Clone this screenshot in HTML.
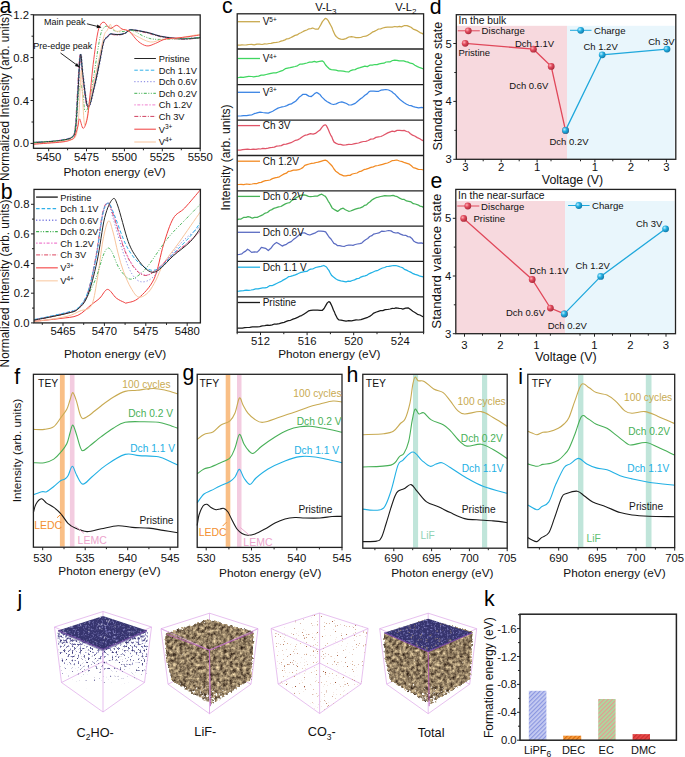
<!DOCTYPE html>
<html><head><meta charset="utf-8"><style>
html,body{margin:0;padding:0;background:#fff;width:685px;height:757px;overflow:hidden}
svg{display:block;font-family:"Liberation Sans", sans-serif}
</style></head><body>
<svg width="685" height="757" viewBox="0 0 685 757">
<defs><radialGradient id="g_r" cx="0.35" cy="0.35" r="0.7"><stop offset="0" stop-color="#ffb0b8"/><stop offset="0.45" stop-color="#e04a5c"/><stop offset="1" stop-color="#a82838"/></radialGradient>
<radialGradient id="g_b" cx="0.35" cy="0.35" r="0.7"><stop offset="0" stop-color="#b8ecff"/><stop offset="0.45" stop-color="#22aee0"/><stop offset="1" stop-color="#1078a8"/></radialGradient>
<linearGradient id="fadeG" x1="0" y1="0" x2="0" y2="1"><stop offset="0" stop-color="#fff" stop-opacity="1"/><stop offset="0.7" stop-color="#fff" stop-opacity="1"/><stop offset="1" stop-color="#fff" stop-opacity="0.6"/></linearGradient>
<filter id="brownTex" x="-10%" y="-10%" width="120%" height="120%" color-interpolation-filters="sRGB">
<feTurbulence type="fractalNoise" baseFrequency="0.3" numOctaves="3" seed="4" result="n"/>
<feColorMatrix in="n" type="matrix" values="1.1 0 0 0 0.02  1.05 0 0 0 -0.03  0.85 0 0 0 -0.04  0 0 0 0 1" result="col"/>
<feGaussianBlur in="SourceAlpha" stdDeviation="1.6" result="ba"/>
<feTurbulence type="fractalNoise" baseFrequency="0.45" numOctaves="2" seed="9" result="n2"/>
<feColorMatrix in="n2" type="matrix" values="0 0 0 0 0  0 0 0 0 0  0 0 0 0 0  1 0 0 0 0" result="a2"/>
<feComposite in="ba" in2="a2" operator="arithmetic" k1="0" k2="6" k3="6" k4="-6.3" result="mask"/>
<feComposite in="col" in2="mask" operator="in"/>
</filter>
<pattern id="hatchB" width="3" height="3" patternUnits="userSpaceOnUse" patternTransform="rotate(-45)"><rect width="3" height="3" fill="#c8cdf2"/><rect width="3" height="1.2" fill="#8a96e0"/></pattern>
<pattern id="hatchO" width="3" height="3" patternUnits="userSpaceOnUse" patternTransform="rotate(-45)"><rect width="3" height="3" fill="#f8a040"/><rect width="3" height="1.2" fill="#d86a10"/></pattern>
<pattern id="hatchG" width="3" height="3" patternUnits="userSpaceOnUse" patternTransform="rotate(-45)"><rect width="3" height="3" fill="#a8dca0"/><rect width="3" height="1.2" fill="#e89890"/></pattern>
<pattern id="hatchR" width="3" height="3" patternUnits="userSpaceOnUse" patternTransform="rotate(-45)"><rect width="3" height="3" fill="#e84848"/><rect width="3" height="1.2" fill="#c83030"/></pattern>
<linearGradient id="fadeN" x1="0" y1="0" x2="0" y2="1"><stop offset="0" stop-color="#fff" stop-opacity="0.88"/><stop offset="0.5" stop-color="#fff" stop-opacity="0.68"/><stop offset="1" stop-color="#fff" stop-opacity="0.42"/></linearGradient>
<filter id="navyTex" x="0" y="0" width="100%" height="100%" color-interpolation-filters="sRGB">
<feTurbulence type="fractalNoise" baseFrequency="0.8" numOctaves="1" seed="12" result="n"/>
<feColorMatrix in="n" type="matrix" values="0 0 0 0 0  0 0 0 0 0  0 0 0 0 0  3.0 0 0 0 -1.0" result="m"/>
<feFlood flood-color="#3e3c78" result="dark"/>
<feFlood flood-color="#9896c8" result="light"/>
<feComposite in="light" in2="m" operator="in" result="lm"/>
<feComposite in="lm" in2="dark" operator="over" result="col"/>
<feTurbulence type="fractalNoise" baseFrequency="0.5" numOctaves="3" seed="21" result="n2"/>
<feColorMatrix in="n2" type="matrix" values="0 0 0 0 0  0 0 0 0 0  0 0 0 0 0  1 0 0 0 0" result="a2"/>
<feComposite in="SourceAlpha" in2="a2" operator="arithmetic" k1="0" k2="8" k3="8" k4="-10.4" result="mask"/>
<feComposite in="col" in2="mask" operator="in"/>
</filter>
<filter id="co3Tex" x="0" y="0" width="100%" height="100%" color-interpolation-filters="sRGB">
<feTurbulence type="fractalNoise" baseFrequency="0.6" numOctaves="1" seed="7" result="n"/>
<feColorMatrix in="n" type="matrix" values="0 0 0 0 0  0 0 0 0 0  0 0 0 0 0  3.0 0 0 0 -1.0" result="m"/>
<feFlood flood-color="#9a4a2a" result="dark"/>
<feFlood flood-color="#e0b898" result="light"/>
<feComposite in="light" in2="m" operator="in" result="lm"/>
<feComposite in="lm" in2="dark" operator="over" result="col"/>
<feTurbulence type="fractalNoise" baseFrequency="0.9" numOctaves="2" seed="33" result="n2"/>
<feColorMatrix in="n2" type="matrix" values="0 0 0 0 0  0 0 0 0 0  0 0 0 0 0  1 0 0 0 0" result="a2"/>
<feComposite in="SourceAlpha" in2="a2" operator="arithmetic" k1="0" k2="8" k3="8" k4="-13.5" result="mask"/>
<feComposite in="col" in2="mask" operator="in"/>
</filter>
<linearGradient id="fadeC" x1="0" y1="0" x2="0" y2="1"><stop offset="0" stop-color="#fff" stop-opacity="0.95"/><stop offset="1" stop-color="#fff" stop-opacity="0.8"/></linearGradient>
<filter id="slabTex" x="0" y="0" width="100%" height="100%" color-interpolation-filters="sRGB">
<feTurbulence type="fractalNoise" baseFrequency="0.55" numOctaves="2" seed="17" result="n"/>
<feColorMatrix in="n" type="matrix" values="0 0 0 0 0  0 0 0 0 0  0 0 0 0 0  3.4 0 0 0 -1.75" result="m"/>
<feFlood flood-color="#36346e" result="dark"/>
<feFlood flood-color="#7c7ab8" result="light"/>
<feComposite in="light" in2="m" operator="in" result="lm"/>
<feComposite in="lm" in2="dark" operator="over" result="col"/>
<feComposite in="col" in2="SourceAlpha" operator="in"/>
</filter>
</defs>
<path d="M33.4,142.9 C36.1,142.8 44.7,142.4 49.4,142 C54.1,141.6 57.8,141.3 61.4,140.6 C65,139.9 69.1,139.6 71.3,137.7 C73.6,135.8 73.9,136.3 74.9,129.4 C75.9,122.5 76.4,108.5 77.2,96.1 C78,83.7 79,58.4 79.9,55.1 C80.8,51.8 81.2,67.7 82.4,76.4 C83.7,85.1 85.5,105.7 87.4,107.4 C89.3,109.1 91.9,94.4 93.9,86.6 C95.9,78.8 97.9,67.8 99.4,60.4 C101,52.9 102,45.7 103.2,41.9 C104.5,38.1 105.8,38.6 106.9,37.4 C108,36.1 108.5,34.8 109.9,34.4 C111.3,34 113.5,35 115.4,35 C117.3,35 119.5,35 121.3,34.7 C123.1,34.3 124.5,33.6 126,32.9 C127.5,32.1 127,30.2 130.4,30.2 C133.8,30.2 141.5,31.8 146.2,32.8 C150.9,33.8 154.6,35.4 158.4,36.3 C162.2,37.2 164.8,37.6 168.9,38.1 C173,38.6 177.9,39.3 183,39.3 C188.1,39.3 196.7,38.3 199.4,38.1" fill="none" stroke="#d04060" stroke-width="0.9" stroke-dasharray="4 1.5 1 1.5"/>
<path d="M33.6,142.1 C36.3,141.9 44.9,141.6 49.6,141.2 C54.3,140.8 58,140.5 61.6,139.8 C65.2,139.1 69.2,138.8 71.5,136.9 C73.8,135 74.1,135.5 75.1,128.6 C76.1,121.7 76.6,107.7 77.4,95.3 C78.2,82.9 79.2,57.6 80.1,54.3 C81,51 81.3,66.9 82.6,75.6 C83.8,84.3 85.7,104.9 87.6,106.6 C89.5,108.3 92.1,93.6 94.1,85.8 C96.1,78 98,67 99.6,59.6 C101.1,52.2 102.1,44.9 103.4,41.1 C104.6,37.3 106,37.9 107.1,36.6 C108.2,35.4 108.7,34 110.1,33.6 C111.5,33.2 113.7,34.2 115.6,34.2 C117.5,34.2 119.7,34.2 121.5,33.9 C123.3,33.5 124.7,32.9 126.2,32.1 C127.7,31.4 127.2,29.4 130.6,29.4 C134,29.4 141.7,31 146.4,32 C151.1,33 154.8,34.6 158.6,35.5 C162.4,36.4 165,36.8 169.1,37.3 C173.2,37.8 178.1,38.5 183.2,38.5 C188.3,38.5 196.9,37.5 199.6,37.3" fill="none" stroke="#f080d0" stroke-width="0.9" stroke-dasharray="1.5 1.5 3 1.5"/>
<path d="M34.5,142.7 C37.2,142.5 45.8,142.2 50.5,141.8 C55.2,141.4 58.9,141.1 62.5,140.4 C66.2,139.7 70.2,139.4 72.4,137.5 C74.7,135.6 75,136.1 76,129.2 C77,122.3 77.5,108.3 78.3,95.9 C79.1,83.5 80.1,58.2 81,54.9 C81.9,51.6 82.2,67.5 83.5,76.2 C84.8,84.9 86.6,105.5 88.5,107.2 C90.4,108.9 93,94.2 95,86.4 C97,78.6 99,67.7 100.5,60.2 C102,52.8 103,45.5 104.3,41.7 C105.5,37.9 106.9,38.5 108,37.2 C109.1,36 109.6,34.6 111,34.2 C112.4,33.8 114.6,34.8 116.5,34.8 C118.4,34.9 120.6,34.9 122.4,34.5 C124.2,34.1 125.6,33.5 127.1,32.7 C128.6,32 128.1,30 131.5,30 C134.9,30 142.6,31.6 147.3,32.6 C152,33.6 155.7,35.2 159.5,36.1 C163.3,37 165.9,37.4 170,37.9 C174.1,38.4 179,39.1 184.1,39.1 C189.2,39.1 197.8,38.1 200.5,37.9" fill="none" stroke="#7a7ae0" stroke-width="0.9" stroke-dasharray="1.2 2"/>
<path d="M33.7,142.3 C36.4,142.2 45,141.8 49.7,141.4 C54.4,141 58.1,140.7 61.7,140 C65.4,139.3 69.4,139 71.6,137.1 C73.9,135.2 74.2,135.7 75.2,128.8 C76.2,121.9 76.7,107.9 77.5,95.5 C78.3,83.1 79.3,57.8 80.2,54.5 C81.1,51.2 81.5,67.1 82.7,75.8 C84,84.5 85.8,105.1 87.7,106.8 C89.6,108.5 92.2,93.8 94.2,86 C96.2,78.2 98.2,67.2 99.7,59.8 C101.2,52.3 102.2,45.1 103.5,41.3 C104.8,37.5 106.1,38 107.2,36.8 C108.3,35.5 108.8,34.2 110.2,33.8 C111.6,33.4 113.8,34.4 115.7,34.4 C117.6,34.4 119.8,34.4 121.6,34.1 C123.4,33.7 124.8,33 126.3,32.3 C127.8,31.5 127.3,29.6 130.7,29.6 C134.1,29.6 141.8,31.2 146.5,32.2 C151.2,33.2 154.9,34.8 158.7,35.7 C162.5,36.6 165.1,37 169.2,37.5 C173.3,38 178.2,38.7 183.3,38.7 C188.4,38.7 197,37.7 199.7,37.5" fill="none" stroke="#30b0e8" stroke-width="0.9" stroke-dasharray="3.5 2"/>
<path d="M34,142.5 C36.7,142.3 45.3,142 50,141.6 C54.7,141.2 58.4,140.9 62,140.2 C65.7,139.5 69.7,139.2 71.9,137.3 C74.2,135.4 74.5,135.9 75.5,129 C76.5,122.1 77,108.1 77.8,95.7 C78.6,83.3 79.6,58 80.5,54.7 C81.4,51.4 81.8,67.3 83,76 C84.2,84.7 86.1,105.3 88,107 C89.9,108.7 92.5,94 94.5,86.2 C96.5,78.4 98.5,67.5 100,60 C101.5,52.5 102.5,45.3 103.8,41.5 C105,37.7 106.4,38.2 107.5,37 C108.6,35.8 109.1,34.4 110.5,34 C111.9,33.6 114.1,34.6 116,34.6 C117.9,34.6 120.1,34.6 121.9,34.3 C123.7,33.9 125.1,33.2 126.6,32.5 C128.1,31.8 127.6,29.8 131,29.8 C134.4,29.8 142.1,31.4 146.8,32.4 C151.5,33.4 155.2,35 159,35.9 C162.8,36.8 165.4,37.2 169.5,37.7 C173.6,38.2 178.5,38.9 183.6,38.9 C188.7,38.9 197.3,37.9 200,37.7" fill="none" stroke="#262626" stroke-width="1.0"/>
<path d="M34,142.5 C38.7,142.2 55.7,141.2 62,140.4 C68.3,139.6 69.8,139.6 72,137.5 C74.2,135.4 74.5,134.2 75.5,128 C76.5,121.8 77,107.3 77.8,100 C78.6,92.7 79.6,84.8 80.5,84 C81.4,83.2 82.2,90.5 83,95 C83.8,99.5 84,109.5 85,111 C86,112.5 87.5,110 89,104 C90.5,98 92,86.3 93.9,75 C95.8,63.7 98.5,44 100.3,36 C102,28.1 103,28.9 104.4,27.3 C105.9,25.8 107.1,26 109,26.7 C110.9,27.4 113.5,30.6 116,31.4 C118.5,32.2 121.4,31.5 124.2,31.4 C127,31.3 129.3,29.7 132.8,30.6 C136.3,31.5 140.6,35.3 145,36.8 C149.4,38.3 149.8,39.2 159,39.4 C168.2,39.5 193.2,38 200,37.7" fill="none" stroke="#40b050" stroke-width="0.9" stroke-dasharray="3 1.5 1 1.5 1 1.5"/>
<path d="M34,144 C38.7,143.6 55.7,142.2 62,141.5 C68.3,140.8 69.6,140.8 72,139.5 C74.4,138.2 75.4,138.3 76.6,133.7 C77.8,129.1 78.2,122.5 79,112 C79.8,101.5 80.6,73.5 81.2,70.7 C81.8,67.9 82,86.1 82.5,95 C83,103.9 83.7,120.4 84.4,124.2 C85.2,128 85.9,122.8 87,118 C88.1,113.2 89.2,104 90.9,95.7 C92.6,87.4 94.8,78.1 96.9,68.3 C99.1,58.4 102.1,43 103.8,36.6 C105.5,30.3 106.2,32.2 107.3,30.2 C108.4,28.1 109.4,24.7 110.2,24.3 C111,23.9 110.8,26.6 112,27.8 C113.2,29 115,31.1 117.2,31.4 C119.4,31.7 122.2,28.9 125.4,29.6 C128.6,30.4 132.2,33.8 136.3,35.9 C140.5,38 145.9,41.4 150.3,42 C154.7,42.6 157.6,40.1 162.5,39.4 C167.4,38.7 173.8,38.6 180,37.7 C186.2,36.8 196.7,34.8 200,34.2" fill="none" stroke="#f8c49c" stroke-width="0.9"/>
<path d="M34,144.2 C38.7,143.8 56,142.7 62,142 C68,141.3 68,140.8 70,140 C72,139.2 73,139.5 74.3,137.3 C75.6,135.1 76.9,129.7 77.8,126.6 C78.7,123.5 78.7,118.6 79.6,118.9 C80.5,119.2 81.9,128.5 83.2,128.4 C84.5,128.3 86.2,123.9 87.3,118.3 C88.4,112.7 89.1,103 90,95 C90.9,87 91.7,77.5 92.5,70 C93.3,62.5 94.2,56 95,50 C95.8,44 96.7,38.1 97.5,34 C98.3,29.9 98.9,27.5 100,25.5 C101.1,23.5 102.4,21.7 104.1,22.2 C105.8,22.7 107.9,27.9 110,28.4 C112.1,28.9 114.6,25.2 116.6,25.3 C118.6,25.4 119.9,28 122,29 C124.1,30 126.6,29.5 129.3,31.5 C132,33.5 135.1,38.8 138,41.2 C140.9,43.6 143.9,45.5 146.8,45.9 C149.7,46.3 152.3,44.6 155.5,43.4 C158.7,42.2 161.9,39.8 166,38.9 C170.1,38 174.3,38.4 180,37.7 C185.7,37.1 196.7,35.5 200,35" fill="none" stroke="#f03c3c" stroke-width="0.9"/>
<rect x="33.5" y="14.9" width="166.7" height="133.4" fill="none" stroke="#222" stroke-width="1.3"/>
<line x1="48.7" y1="148.3" x2="48.7" y2="151.3" stroke="#222" stroke-width="1.0"/><line x1="86.5" y1="148.3" x2="86.5" y2="151.3" stroke="#222" stroke-width="1.0"/><line x1="124.4" y1="148.3" x2="124.4" y2="151.3" stroke="#222" stroke-width="1.0"/><line x1="162.3" y1="148.3" x2="162.3" y2="151.3" stroke="#222" stroke-width="1.0"/><line x1="200.2" y1="148.3" x2="200.2" y2="151.3" stroke="#222" stroke-width="1.0"/>
<line x1="67.6" y1="148.3" x2="67.6" y2="150.3" stroke="#222" stroke-width="1.0"/><line x1="105.5" y1="148.3" x2="105.5" y2="150.3" stroke="#222" stroke-width="1.0"/><line x1="143.4" y1="148.3" x2="143.4" y2="150.3" stroke="#222" stroke-width="1.0"/><line x1="181.3" y1="148.3" x2="181.3" y2="150.3" stroke="#222" stroke-width="1.0"/>
<line x1="33.5" y1="143.4" x2="30.5" y2="143.4" stroke="#222" stroke-width="1.0"/><line x1="33.5" y1="100.5" x2="30.5" y2="100.5" stroke="#222" stroke-width="1.0"/><line x1="33.5" y1="57.6" x2="30.5" y2="57.6" stroke="#222" stroke-width="1.0"/><line x1="33.5" y1="14.7" x2="30.5" y2="14.7" stroke="#222" stroke-width="1.0"/>
<line x1="33.5" y1="122" x2="31.5" y2="122" stroke="#222" stroke-width="1.0"/><line x1="33.5" y1="79.1" x2="31.5" y2="79.1" stroke="#222" stroke-width="1.0"/><line x1="33.5" y1="36.2" x2="31.5" y2="36.2" stroke="#222" stroke-width="1.0"/>
<text x="48.7" y="160.5" font-size="11.3" fill="#111" text-anchor="middle">5450</text>
<text x="86.5" y="160.5" font-size="11.3" fill="#111" text-anchor="middle">5475</text>
<text x="124.4" y="160.5" font-size="11.3" fill="#111" text-anchor="middle">5500</text>
<text x="162.3" y="160.5" font-size="11.3" fill="#111" text-anchor="middle">5525</text>
<text x="200.2" y="160.5" font-size="11.3" fill="#111" text-anchor="middle">5550</text>
<text x="29" y="147.4" font-size="11.3" fill="#111" text-anchor="end">0.0</text>
<text x="29" y="104.5" font-size="11.3" fill="#111" text-anchor="end">0.4</text>
<text x="29" y="61.6" font-size="11.3" fill="#111" text-anchor="end">0.8</text>
<text x="29" y="18.7" font-size="11.3" fill="#111" text-anchor="end">1.2</text>
<text x="114.6" y="175.5" font-size="11.8" fill="#111" text-anchor="middle">Photon energy (eV)</text>
<text x="0" y="0" font-size="11.9" fill="#111" text-anchor="middle" transform="translate(8.6,97) rotate(-90)">Normalized Intensity (arb. units)</text>
<text x="85.6" y="24.5" font-size="9.0" fill="#111" text-anchor="end">Main peak</text>
<line x1="86.9" y1="23.8" x2="100.5" y2="27.2" stroke="#111" stroke-width="0.9"/>
<path d="M101.5,27.5 L97.3,24.6 L96.6,28.3 Z" fill="#111"/>
<text x="92.3" y="49" font-size="9.0" fill="#111" text-anchor="end">Pre-edge peak</text>
<line x1="60.5" y1="53" x2="78.7" y2="66.4" stroke="#111" stroke-width="0.9"/>
<path d="M79.6,67.2 L76.9,63 L74.9,66 Z" fill="#111"/>
<line x1="134.3" y1="58.5" x2="155.9" y2="58.5" stroke="#262626" stroke-width="1.0"/>
<text x="158.7" y="61.9" font-size="9.3" fill="#111" text-anchor="start">Pristine</text>
<line x1="134.3" y1="70.2" x2="155.9" y2="70.2" stroke="#30b0e8" stroke-width="1.0" stroke-dasharray="3.5 2"/>
<text x="158.7" y="73.6" font-size="9.3" fill="#111" text-anchor="start">Dch 1.1V</text>
<line x1="134.3" y1="81.7" x2="155.9" y2="81.7" stroke="#7a7ae0" stroke-width="1.0" stroke-dasharray="1.2 2"/>
<text x="158.7" y="85.1" font-size="9.3" fill="#111" text-anchor="start">Dch 0.6V</text>
<line x1="134.3" y1="93.3" x2="155.9" y2="93.3" stroke="#40b050" stroke-width="1.0" stroke-dasharray="3 1.5 1 1.5 1 1.5"/>
<text x="158.7" y="96.7" font-size="9.3" fill="#111" text-anchor="start">Dch 0.2V</text>
<line x1="134.3" y1="104.9" x2="155.9" y2="104.9" stroke="#f080d0" stroke-width="1.0" stroke-dasharray="1.5 1.5 3 1.5"/>
<text x="158.7" y="108.3" font-size="9.3" fill="#111" text-anchor="start">Ch 1.2V</text>
<line x1="134.3" y1="116.4" x2="155.9" y2="116.4" stroke="#d04060" stroke-width="1.0" stroke-dasharray="4 1.5 1 1.5"/>
<text x="158.7" y="119.8" font-size="9.3" fill="#111" text-anchor="start">Ch 3V</text>
<line x1="134.3" y1="129.2" x2="155.9" y2="129.2" stroke="#f03c3c" stroke-width="1.0"/>
<text x="158.7" y="132.6" font-size="9.3" fill="#111" text-anchor="start">V<tspan dy="-3.5" font-size="6.5">3+</tspan></text>
<line x1="134.3" y1="142" x2="155.9" y2="142" stroke="#f8c49c" stroke-width="1.0"/>
<text x="158.7" y="145.4" font-size="9.3" fill="#111" text-anchor="start">V<tspan dy="-3.5" font-size="6.5">4+</tspan></text>
<text x="-0.4" y="12.8" font-size="21.3" fill="#000" text-anchor="start">a</text>
<path d="M34.2,321.4 C38.5,320.9 52.7,319.5 60,318.5 C67.3,317.5 72.7,317.6 77.9,315.3 C83.1,313 87.6,307.6 91.3,304.7 C95,301.8 97.2,300.6 99.9,298 C102.6,295.4 104.9,289.4 107.6,289.4 C110.3,289.4 113.5,295.9 116.2,298 C118.9,300.1 122.1,301.4 123.9,302.2 C125.7,303 124.7,303.5 127.2,302.8 C129.7,302.1 134.2,302 138.7,298 C143.2,294 149.9,287.8 154.1,278.9 C158.2,270 160.4,254.5 163.6,244.4 C166.8,234.3 169.7,224.6 173.2,218.5 C176.7,212.4 180.2,212.8 184.7,208 C189.2,203.2 197.8,192.8 200.4,189.8" fill="none" stroke="#f03c3c" stroke-width="1.0"/>
<path d="M34.2,321.5 C36.7,321.2 43.5,320.4 49.2,319.5 C54.9,318.6 63.2,317.4 68.3,316 C73.4,314.6 76.2,312.7 80,311 C83.8,309.3 88.5,310.7 91.3,305.7 C94.1,300.7 95,291.8 97,280.8 C99,269.9 101.1,250 103,240 C104.9,230 106.8,222.3 108.5,221 C110.2,219.7 111.4,226.7 113,232 C114.6,237.3 116.3,246.5 118,253 C119.7,259.5 121.2,265.4 123.4,271.2 C125.6,277 128.4,283.7 131,288 C133.6,292.3 135.8,296.4 138.7,297.1 C141.6,297.8 145.4,295.2 148.3,292.3 C151.2,289.4 153.4,284.8 156,280 C158.6,275.2 159.8,269.8 163.6,263.5 C167.4,257.2 172.9,251.1 179,242.5 C185.1,233.9 196.8,216.9 200.4,211.8" fill="none" stroke="#f8c49c" stroke-width="1.0"/>
<path d="M34.2,320 C36.7,319.5 43.5,318.2 49.2,317 C54.9,315.8 63.5,314.3 68.3,313 C73.1,311.7 74.7,311.8 77.9,309 C81.1,306.2 84.5,301.2 87.5,296 C90.5,290.8 93.4,284.7 96,278 C98.6,271.3 101.1,261 103,256 C104.9,251 106.1,248.9 107.6,248.2 C109.1,247.5 110.1,248.7 112,252 C113.9,255.3 116.1,263.5 119,268 C121.9,272.5 125.9,277.7 129.2,278.9 C132.5,280.1 135.8,277.2 139,275 C142.2,272.8 143.6,271.6 148.3,265.5 C153.1,259.4 161.4,246.2 167.5,238.6 C173.6,231 179.5,225.7 185,220 C190.5,214.3 197.8,206.8 200.4,204.2" fill="none" stroke="#40b050" stroke-width="0.9" stroke-dasharray="3 1.5 1 1.5 1 1.5"/>
<path d="M34.2,319.8 C36.7,319.3 43.5,318 49.2,316.8 C54.9,315.6 63.5,313.9 68.3,312.5 C73.1,311.1 74.7,311.6 77.9,308.5 C81.1,305.4 84.5,302.6 87.5,294 C90.5,285.4 93.4,270.7 96,257 C98.6,243.3 100.9,221 103,212 C105.1,203 106.7,202.3 108.5,203 C110.3,203.7 111.2,208.2 114,216 C116.8,223.8 121.5,241.3 125,250 C128.5,258.7 131.6,263.8 135,268 C138.4,272.2 141.9,274.7 145.4,275 C148.9,275.3 151.9,273 156,270 C160.1,267 165,261.3 170,257 C175,252.7 180.9,248.3 186,244 C191.1,239.7 198,233.2 200.4,231" fill="none" stroke="#f080d0" stroke-width="0.9" stroke-dasharray="1.5 1.5 3 1.5"/>
<path d="M34.2,319.5 C36.7,319 43.5,317.8 49.2,316.5 C54.9,315.2 63.5,313.3 68.3,312 C73.1,310.7 74.7,311.5 77.9,308.5 C81.1,305.5 84.5,302.4 87.5,294 C90.5,285.6 93.4,271.3 96,258 C98.6,244.7 100.9,223.1 103,214 C105.1,204.9 106.8,202.8 108.5,203.5 C110.2,204.2 110.4,209.4 113,218 C115.6,226.6 120.8,245.7 124,255 C127.2,264.3 129.2,269.6 132,274 C134.8,278.4 137.4,281 140.7,281.7 C144,282.4 147.9,281.3 152,278 C156.1,274.7 160,268 165,262 C170,256 176.1,248 182,242 C187.9,236 197.3,228.8 200.4,226.2" fill="none" stroke="#7a7ae0" stroke-width="0.9" stroke-dasharray="1.2 2"/>
<path d="M33.9,320.3 C36.4,319.8 43.2,318.5 48.9,317.3 C54.6,316.1 63.2,314.4 68,313 C72.8,311.6 74.4,312.1 77.6,309 C80.8,305.9 84.2,303.1 87.2,294.5 C90.2,285.9 93.1,271.2 95.7,257.5 C98.3,243.8 100.6,221.5 102.7,212.5 C104.8,203.5 106.4,202.8 108.2,203.5 C110,204.2 111,208.7 113.7,216.5 C116.5,224.3 121.2,241.8 124.7,250.5 C128.2,259.2 131.3,264.3 134.7,268.5 C138.1,272.7 141.6,275.2 145.1,275.5 C148.6,275.8 151.6,273.5 155.7,270.5 C159.8,267.5 164.7,261.8 169.7,257.5 C174.7,253.2 180.6,248.8 185.7,244.5 C190.8,240.2 197.7,233.7 200.1,231.5" fill="none" stroke="#d04060" stroke-width="0.9" stroke-dasharray="4 1.5 1 1.5"/>
<path d="M34.2,319.5 C36.7,319 43.5,317.8 49.2,316.5 C54.9,315.2 63.5,313.4 68.3,312 C73.1,310.6 74.7,311.2 77.9,308 C81.1,304.8 84.5,301.3 87.5,293 C90.5,284.7 93.4,271.3 96,258 C98.6,244.7 100.9,222.1 103,213 C105.1,203.9 106.7,203 108.5,203.2 C110.3,203.4 111.1,207 114,214 C116.9,221 122,237 126,245 C130,253 133.8,257.8 138,262 C142.2,266.2 147.2,269.5 151.2,270.2 C155.2,270.9 158,269 162,266 C166,263 170.2,257 175,252 C179.8,247 186.3,240.9 190.5,236 C194.7,231.1 198.8,224.7 200.4,222.4" fill="none" stroke="#30b0e8" stroke-width="1.0" stroke-dasharray="3.5 2"/>
<path d="M34.2,320 C36.7,319.5 43.5,318.4 49.2,317.2 C54.9,316 63.5,314.4 68.3,313 C73.1,311.6 74.7,311.9 77.9,309.1 C81.1,306.3 84.3,304 87.5,296.1 C90.7,288.2 94.1,274.7 97,261.6 C99.9,248.5 102.1,228 104.7,217.6 C107.3,207.2 110.3,201.5 112.4,199.4 C114.5,197.3 114.9,198 117.5,205 C120.1,212 125,232.7 128.2,241.5 C131.4,250.3 133.8,253.2 136.8,257.8 C139.8,262.4 143.5,266.9 146.4,269.3 C149.3,271.7 151.6,272.5 154.1,272.2 C156.6,271.9 158.5,270.1 161.7,267.4 C164.9,264.7 168.4,260.2 173.2,255.9 C178,251.6 186,246.1 190.5,241.5 C195,236.9 198.8,230.3 200.4,228.1" fill="none" stroke="#262626" stroke-width="1.0"/>
<rect x="34" y="189.4" width="166.4" height="133.5" fill="none" stroke="#222" stroke-width="1.3"/>
<line x1="63" y1="322.9" x2="63" y2="325.9" stroke="#222" stroke-width="1.0"/><line x1="104.4" y1="322.9" x2="104.4" y2="325.9" stroke="#222" stroke-width="1.0"/><line x1="145.8" y1="322.9" x2="145.8" y2="325.9" stroke="#222" stroke-width="1.0"/><line x1="187.2" y1="322.9" x2="187.2" y2="325.9" stroke="#222" stroke-width="1.0"/>
<line x1="42.3" y1="322.9" x2="42.3" y2="324.9" stroke="#222" stroke-width="1.0"/><line x1="83.7" y1="322.9" x2="83.7" y2="324.9" stroke="#222" stroke-width="1.0"/><line x1="125.1" y1="322.9" x2="125.1" y2="324.9" stroke="#222" stroke-width="1.0"/><line x1="166.5" y1="322.9" x2="166.5" y2="324.9" stroke="#222" stroke-width="1.0"/>
<line x1="34" y1="322.9" x2="31" y2="322.9" stroke="#222" stroke-width="1.0"/><line x1="34" y1="293.2" x2="31" y2="293.2" stroke="#222" stroke-width="1.0"/><line x1="34" y1="263.6" x2="31" y2="263.6" stroke="#222" stroke-width="1.0"/><line x1="34" y1="233.9" x2="31" y2="233.9" stroke="#222" stroke-width="1.0"/><line x1="34" y1="204.3" x2="31" y2="204.3" stroke="#222" stroke-width="1.0"/>
<line x1="34" y1="308.1" x2="32" y2="308.1" stroke="#222" stroke-width="1.0"/><line x1="34" y1="278.4" x2="32" y2="278.4" stroke="#222" stroke-width="1.0"/><line x1="34" y1="248.7" x2="32" y2="248.7" stroke="#222" stroke-width="1.0"/><line x1="34" y1="219.1" x2="32" y2="219.1" stroke="#222" stroke-width="1.0"/>
<text x="63" y="334.9" font-size="11.3" fill="#111" text-anchor="middle">5465</text>
<text x="104.4" y="334.9" font-size="11.3" fill="#111" text-anchor="middle">5470</text>
<text x="145.8" y="334.9" font-size="11.3" fill="#111" text-anchor="middle">5475</text>
<text x="187.2" y="334.9" font-size="11.3" fill="#111" text-anchor="middle">5480</text>
<text x="29.5" y="326.9" font-size="11.3" fill="#111" text-anchor="end">0.0</text>
<text x="29.5" y="297.2" font-size="11.3" fill="#111" text-anchor="end">0.2</text>
<text x="29.5" y="267.6" font-size="11.3" fill="#111" text-anchor="end">0.4</text>
<text x="29.5" y="237.9" font-size="11.3" fill="#111" text-anchor="end">0.6</text>
<text x="29.5" y="208.3" font-size="11.3" fill="#111" text-anchor="end">0.8</text>
<text x="0" y="0" font-size="11.9" fill="#111" text-anchor="middle" transform="translate(8.7,283.5) rotate(-90)">Normalized Intensity (arb. units)</text>
<text x="115.1" y="358" font-size="11.8" fill="#111" text-anchor="middle">Photon energy (eV)</text>
<line x1="36.1" y1="197.1" x2="57.8" y2="197.1" stroke="#262626" stroke-width="1.4"/>
<text x="60.3" y="200.5" font-size="9.3" fill="#111" text-anchor="start">Pristine</text>
<line x1="36.1" y1="208.6" x2="57.8" y2="208.6" stroke="#30b0e8" stroke-width="1.4" stroke-dasharray="3.5 2"/>
<text x="60.3" y="212" font-size="9.3" fill="#111" text-anchor="start">Dch 1.1V</text>
<line x1="36.1" y1="220.2" x2="57.8" y2="220.2" stroke="#7a7ae0" stroke-width="1.4" stroke-dasharray="1.2 2"/>
<text x="60.3" y="223.6" font-size="9.3" fill="#111" text-anchor="start">Dch 0.6V</text>
<line x1="36.1" y1="231.6" x2="57.8" y2="231.6" stroke="#40b050" stroke-width="1.4" stroke-dasharray="3 1.5 1 1.5 1 1.5"/>
<text x="60.3" y="235" font-size="9.3" fill="#111" text-anchor="start">Dch 0.2V</text>
<line x1="36.1" y1="243.1" x2="57.8" y2="243.1" stroke="#f080d0" stroke-width="1.4" stroke-dasharray="1.5 1.5 3 1.5"/>
<text x="60.3" y="246.5" font-size="9.3" fill="#111" text-anchor="start">Ch 1.2V</text>
<line x1="36.1" y1="254.9" x2="57.8" y2="254.9" stroke="#e46c80" stroke-width="1.4" stroke-dasharray="4 1.5 1 1.5"/>
<text x="60.3" y="258.3" font-size="9.3" fill="#111" text-anchor="start">Ch 3V</text>
<line x1="36.1" y1="267.8" x2="57.8" y2="267.8" stroke="#f66a6a" stroke-width="1.4"/>
<text x="60.3" y="271.2" font-size="9.3" fill="#111" text-anchor="start">V<tspan dy="-3.5" font-size="6.5">3+</tspan></text>
<line x1="36.1" y1="280.8" x2="57.8" y2="280.8" stroke="#fbd6b8" stroke-width="1.4"/>
<text x="60.3" y="284.2" font-size="9.3" fill="#111" text-anchor="start">V<tspan dy="-3.5" font-size="6.5">4+</tspan></text>
<text x="0.8" y="199.3" font-size="21.3" fill="#000" text-anchor="start">b</text>
<path d="M237.2,45.2 L238.5,45 L240.1,45.1 L242,44.9 L244.2,45 L246.5,44.9 L249,44.5 L251.6,44.3 L254.2,44.8 L256.9,44.2 L259.5,44.1 L262.1,44.5 L264.6,43.9 L266.9,44 L269.1,43.5 L271,43.4 L273.8,42.6 L276.4,42.4 L278.8,42 L281,41.2 L283,40.6 L285,39.9 L286.8,38.8 L288.7,38.6 L290.5,37.8 L292.8,36.6 L295,35.4 L297.1,34.9 L299.1,33.5 L300.9,32.7 L302.7,31.8 L304.3,30.9 L306.8,30 L309,28.8 L310.9,28.6 L312.7,28 L315.5,29.2 L318.2,29.2 L319.5,27 L321,24.4 L322.4,21.6 L323.9,19.8 L325.2,18.3 L326.7,18.8 L328,20.3 L329.4,22.9 L330.7,25.2 L331.8,27.3 L332.8,29.9 L333.9,32.4 L335,34.9 L336.2,36.5 L338.4,38.4 L340.7,39.2 L343.2,39.4 L345.9,38.6 L348.8,37 L351.5,36.7 L353.8,37 L355.9,37.7 L358.4,37.7 L360.7,37.5 L363.2,36.5 L365.8,36.2 L368.2,35.1 L370.3,33.7 L372.3,32.2 L374.3,31.4 L376.5,30.3 L378.5,29 L380.6,28.8 L382.8,28 L385.2,27.3 L387.6,27.1 L389.8,27.2 L392.3,27.1 L394.8,26.5 L397.3,26.9 L399.5,26.4 L401.4,26.8 L404.5,25.5 L407,25.6 L408.9,26.4 L411,27.3 L413.2,29.1 L415.3,29.9 L417.6,30.9 L420,32.6 L422.1,33.3 L423.6,34.4" fill="none" stroke="#c9a94e" stroke-width="1.25" stroke-linejoin="round"/>
<line x1="237.8" y1="21.7" x2="260" y2="21.7" stroke="#c9a94e" stroke-width="1.3"/>
<text x="262.7" y="25.3" font-size="10.0" fill="#111" text-anchor="start">V<tspan dy="-3.5" font-size="6.5">5+</tspan></text>
<path d="M237.2,78 L238.7,77.5 L240.7,77.2 L243.2,77.4 L245.9,76.8 L248.7,76.4 L251.6,76.5 L253.8,76.8 L256.2,76.4 L258.6,76.1 L261.2,75.1 L263.7,75.2 L266.2,74.5 L268.7,73.9 L271,73.3 L273.5,72.8 L276,72.9 L278.4,72 L280.7,71.1 L283,70.3 L285.3,68.7 L287.7,68.1 L290.1,67.7 L292.5,67.1 L295,66.5 L297.4,65.8 L299.8,64.2 L302.1,64.2 L304.3,63.7 L306.9,63 L309.5,62.1 L312,62.1 L314.4,61.3 L316.5,62.1 L318.2,61.7 L322.4,60.9 L323.8,62 L325.4,64.8 L327.2,66.7 L329.3,68.8 L331.3,69.6 L333.6,69.8 L336,70.2 L338.3,70.8 L340.4,70.9 L343.2,71.1 L345.6,71.6 L348.7,72 L350.7,70.6 L352.8,69.8 L355.1,69.6 L357.6,68.3 L360.1,67.7 L362.6,66.9 L364.9,66.2 L367.3,66.6 L369.8,65.2 L372.3,65.1 L374.8,64.5 L377.1,64.6 L379.2,63.8 L381.8,63.3 L384,63.2 L386.1,62 L388.2,61.8 L390.3,61.8 L392.5,60.5 L394.7,60.2 L397,60.3 L399.2,60.9 L401.4,60.9 L403.6,60.9 L405.8,61.6 L408.1,62.1 L410.3,63.2 L412.5,63.6 L414.9,65.3 L417.5,66.6 L420,67.7 L422.1,68.4 L423.6,68.8" fill="none" stroke="#3fd660" stroke-width="1.25" stroke-linejoin="round"/>
<line x1="237.8" y1="58.5" x2="260" y2="58.5" stroke="#3fd660" stroke-width="1.3"/>
<text x="262.7" y="62.1" font-size="10.0" fill="#111" text-anchor="start">V<tspan dy="-3.5" font-size="6.5">4+</tspan></text>
<path d="M237.2,116.1 L238.8,116 L241.2,115.9 L243.9,115.7 L246.7,115.6 L249.4,115.2 L251.6,115 L254.1,113.7 L256.2,113.2 L258,112.7 L260,112.1 L262.7,112.5 L265.4,112.8 L268.3,113.1 L270.5,112.2 L272.7,111.2 L275.1,109.8 L278,108.1 L279.9,107.5 L282.1,106.8 L284.5,106.5 L286.8,105.6 L289.2,104.4 L291.4,103.9 L293.3,102.6 L295.6,101.2 L297.7,99 L299.5,96.9 L301.2,95.8 L303,94.3 L306,94.4 L308.8,96.1 L311.3,96.6 L313.2,95 L314.9,93.4 L316.8,92.5 L318.3,93.4 L320,94.6 L321.7,96.9 L323.5,98.6 L325.2,100.3 L327.3,101.8 L329.4,102.9 L331.4,104 L333.5,104.5 L336.2,103.9 L338.9,102.5 L341.8,101.9 L344.1,102.7 L346.5,103.5 L348.9,105 L351.5,104.9 L353.3,104.2 L355.2,103.4 L357.1,101.7 L359.1,100.1 L360.9,98.6 L362.6,97.4 L364.9,95.2 L367.1,93.9 L369.1,91.7 L370.9,91 L373.8,91.2 L376.5,91.4 L378.7,91.3 L380.9,90.2 L383.4,89.8 L385.9,89.5 L388.6,90 L391.7,91.5 L393.3,93.1 L395,94.2 L396.8,96.3 L398.7,98.3 L400.6,100.1 L402.5,101.4 L404.2,102.7 L406.6,104.2 L408.9,105.3 L411.1,105.7 L413.3,106.6 L415.3,107.2 L418.6,107.8 L421.6,107.4 L423.6,107.8" fill="none" stroke="#3a84e4" stroke-width="1.25" stroke-linejoin="round"/>
<line x1="237.8" y1="92.3" x2="260" y2="92.3" stroke="#3a84e4" stroke-width="1.3"/>
<text x="262.7" y="95.9" font-size="10.0" fill="#111" text-anchor="start">V<tspan dy="-3.5" font-size="6.5">3+</tspan></text>
<path d="M237.2,150 L238.6,150.2 L240.4,150.1 L242.6,149.7 L245.1,149.4 L247.7,149.1 L250.5,149.5 L253.2,149.2 L255.9,149.3 L258.4,148.8 L260.7,149 L262.7,148.4 L265.7,148.6 L268.1,148.2 L270.2,147.6 L272.2,147.4 L274.3,147.1 L276.6,146.1 L278.9,145.9 L281.3,145.6 L283.7,144.4 L286.2,144.2 L288.7,143.4 L291,142.7 L293.3,141.5 L295.5,140.3 L297.6,139.9 L299.7,138.8 L301.7,137.3 L303.6,136 L305.4,135.1 L307.1,134.8 L310.4,133.7 L313.1,134.1 L315.4,133.4 L317.9,131.6 L320,130.1 L321.7,127.6 L323.4,125.6 L325.2,124.8 L326.3,125.5 L327.4,127.6 L328.5,130.1 L329.6,132.8 L330.7,135.1 L331.8,136.8 L332.8,139.6 L334.1,142.1 L336.2,143.4 L338.2,144.3 L340.5,144.3 L343.1,145.2 L345.9,144.8 L348.8,144.3 L351.5,144.5 L353.8,143.9 L356.2,143.4 L358.6,143 L361,142.1 L363.4,141.5 L365.8,141.3 L368.2,140.5 L370.7,139.1 L373.3,139 L375.9,137.4 L378.5,136.8 L380.9,136.5 L383,135.5 L384.8,134.5 L387.7,132.9 L390.3,131.8 L392.2,131.2 L394.5,131.6 L397.1,130.4 L399.7,130.4 L402.1,130.6 L404.2,130.4 L406.6,131.5 L408.5,131.9 L410.4,133.8 L412.5,135.1 L414.7,136 L417.3,137.6 L419.8,138.7 L422,140.2 L423.6,140.8" fill="none" stroke="#e05468" stroke-width="1.25" stroke-linejoin="round"/>
<line x1="237.8" y1="125.6" x2="260" y2="125.6" stroke="#e05468" stroke-width="1.3"/>
<text x="262.7" y="129.2" font-size="10.0" fill="#111" text-anchor="start">Ch 3V</text>
<path d="M237.2,184.7 L238.8,184.5 L241,184.3 L243.7,184.7 L246.6,184 L249.4,184.3 L252.1,184 L254.4,183.5 L257,183.5 L259.1,182.6 L261.2,182.4 L263.2,181.4 L265.5,180.7 L267.7,180.4 L270,180 L272.4,178.6 L274.9,177.8 L277.2,177.4 L279.4,176.8 L281.8,175.3 L284.2,173.9 L286.4,173.2 L288.5,171.3 L290.5,171.2 L293.5,170.2 L296.1,170.2 L298.8,169.7 L300.8,168.7 L302.8,167.6 L304.8,165.4 L307.1,164.6 L309.2,164 L311.5,163.3 L313.9,163.2 L316.2,162.5 L318.2,162.1 L320.9,161.3 L323.1,160.7 L325.2,160.2 L327.1,160.9 L328.8,162.6 L330.7,164.5 L332.3,166.2 L334,169 L335.7,171.2 L337.6,172.6 L339.5,174.1 L341.5,174.9 L343.7,175.8 L346,175.8 L348,175.3 L350.1,175.4 L352.3,174 L354.6,173.5 L357,173 L359.1,171.7 L361.4,171.1 L363.8,169.7 L366.2,169.2 L368.5,168.4 L370.9,167.4 L373.3,166.9 L375.7,165.8 L378.1,165.5 L380.5,164.9 L382.7,164.3 L384.8,163.7 L387.5,163 L389.7,162 L392,160.7 L394.5,160.4 L396.9,160 L399.5,161 L402.2,161.6 L404.7,162.7 L407,163.4 L409.4,164.2 L411.4,165.8 L413.3,167.6 L415.3,168.2 L418.4,169.4 L421.4,169.5 L423.6,170" fill="none" stroke="#f28a22" stroke-width="1.25" stroke-linejoin="round"/>
<line x1="237.8" y1="161.2" x2="260" y2="161.2" stroke="#f28a22" stroke-width="1.3"/>
<text x="262.7" y="164.8" font-size="10.0" fill="#111" text-anchor="start">Ch 1.2V</text>
<path d="M237.2,220 L238.7,219.1 L241,219.1 L243.5,217.4 L246.1,217.4 L248.1,216.7 L250.1,217.1 L252.3,218.2 L254.6,217.4 L257.2,217.4 L259,216.5 L261,215.6 L263.1,214.6 L265.3,213.1 L267.5,212.5 L269.7,210.5 L271.8,209.6 L273.8,208.4 L276.3,207.6 L278.6,206.8 L280.9,206.5 L283.2,205.1 L285.4,203.9 L287.7,203 L289.7,202.7 L291.8,200.3 L293.8,199.5 L295.8,197.9 L297.8,196.9 L299.8,195.5 L301.6,195.2 L304,194.8 L306.2,195.4 L308.4,196.4 L310.5,196.7 L312.7,196.5 L315,196.1 L317.3,196.2 L319.6,194.9 L321.8,194.2 L323.8,195.5 L325.4,196.4 L326.9,198.7 L328.3,201.3 L329.6,203.2 L330.9,205.6 L332.1,207.9 L335,209.9 L337.6,211.4 L340.4,209.2 L343.2,208.2 L345.4,209.7 L348.7,211.3 L350.6,211 L352.8,210.1 L355.3,209.2 L357.9,208.3 L360.3,207.9 L362.6,206.9 L364.6,205.3 L366.5,204.9 L368.3,203 L370.1,201.8 L371.9,200 L373.7,198.9 L376,197.7 L378.3,197.2 L380.6,196.5 L382.8,196.1 L384.8,195.7 L387.7,195.8 L390.2,195.8 L393.1,195.4 L395.1,196.2 L397.3,196.7 L399.6,198.1 L401.9,199.3 L404.2,199.4 L406.5,200.9 L408.8,201.3 L411.1,201.9 L413.3,203.7 L415.3,204 L417.8,204.8 L420.1,206.1 L422.2,206.6 L423.6,207.5" fill="none" stroke="#46b257" stroke-width="1.25" stroke-linejoin="round"/>
<line x1="237.8" y1="196.4" x2="260" y2="196.4" stroke="#46b257" stroke-width="1.3"/>
<text x="262.7" y="200" font-size="10.0" fill="#111" text-anchor="start">Dch 0.2V</text>
<path d="M237.2,254.7 L239.2,254.5 L241.9,253.8 L243.8,252.1 L245.7,251.1 L247.5,249.2 L249.6,250.6 L251.6,252.4 L254.4,251.9 L257.2,252.1 L259.4,250 L261.4,247.3 L265.5,248.3 L268.3,250.5 L269.7,249.2 L271.4,247.7 L273.2,245.1 L275,243.5 L276.6,242.4 L279.2,244.1 L282.2,246.1 L284.1,245.1 L286.4,244.3 L288.8,242.6 L291.2,241.6 L293.3,239.6 L295.6,237.9 L297.6,236.3 L299.6,234.5 L301.6,233 L304.5,232.9 L307.3,234.3 L309.9,235 L312.6,233.9 L315.4,232.8 L318,231.2 L321,231.1 L323.8,231.3 L325.6,231.8 L327.3,234.4 L329,237 L330.7,238.7 L332.3,241 L333.9,243.4 L335.6,244.1 L337.6,245.7 L339.6,245.6 L341.7,246.2 L344.1,246.5 L346.4,245.5 L348.7,245.1 L350.9,245 L353,245.3 L355.2,244.5 L357.4,244 L359.8,243.6 L361.7,243.1 L363.6,241.3 L365.6,239.8 L367.7,238.5 L369.7,236.5 L371.8,235.7 L373.7,234.1 L376.3,233.5 L378.9,232.9 L381.5,231.2 L383.9,231.3 L386.2,231 L388.7,230.5 L391,230.9 L393.2,232.3 L395.9,233 L398.1,232.7 L400.5,234.1 L403.1,235.2 L405.6,235.3 L407.9,236.6 L409.8,236.8 L412.2,238.8 L413.6,240.9 L415.3,242.1 L418.2,243.1 L421.3,242.8 L423.6,243.6" fill="none" stroke="#5b6cc2" stroke-width="1.25" stroke-linejoin="round"/>
<line x1="237.8" y1="232.3" x2="260" y2="232.3" stroke="#5b6cc2" stroke-width="1.3"/>
<text x="262.7" y="235.9" font-size="10.0" fill="#111" text-anchor="start">Dch 0.6V</text>
<path d="M237.2,291.3 L238.8,291.2 L240.9,290.8 L243.5,290.7 L246.2,290.1 L248.9,290.3 L251.1,290 L253.3,289.6 L255.7,288.9 L258,288.9 L260.4,288.3 L262.7,287.8 L265,287.8 L267.3,287.3 L269.6,285.7 L272,285.7 L274.3,284.6 L276.6,283.5 L278.6,282.5 L280.6,281.7 L282.6,280.4 L284.5,279.4 L286.5,278.2 L288.5,276.7 L290.5,276.3 L292.9,275.6 L295.3,274.8 L297.7,273.8 L300.1,272.7 L302.3,272.1 L304.3,271.6 L306.8,271.4 L308.8,269.9 L310.7,269.2 L312.7,269 L315.6,267.5 L318.4,266.9 L321,266.3 L323.8,265.5 L326.5,267 L327.7,268.8 L328.9,270.4 L330.2,273 L331.7,275.6 L333.5,277.1 L335.7,278.8 L338.2,280.2 L340.8,280.9 L343.5,281.3 L346,281.9 L348.2,281.2 L350.2,281.3 L352.3,280.5 L354.5,279.9 L357,278.6 L358.8,278.5 L360.8,277.1 L362.8,276.3 L365,275.9 L367.2,275.1 L369.4,273.6 L371.6,272.7 L373.7,271.7 L375.8,270.8 L378,270.3 L380.3,269 L382.5,268 L384.7,267.5 L386.7,266.5 L388.6,266.4 L390.3,266.1 L393.5,265.5 L395.8,265.5 L398.7,266.3 L400.4,267 L402.3,267.6 L404.4,269.3 L406.5,270.1 L408.6,271.2 L410.6,272.1 L412.5,273.3 L415.1,274.4 L417.7,275.1 L420.1,276.2 L422.1,276.6 L423.6,276.9" fill="none" stroke="#22b2e6" stroke-width="1.25" stroke-linejoin="round"/>
<line x1="237.8" y1="267.2" x2="260" y2="267.2" stroke="#22b2e6" stroke-width="1.3"/>
<text x="262.7" y="270.8" font-size="10.0" fill="#111" text-anchor="start">Dch 1.1 V</text>
<path d="M237.2,328.1 L238.5,328 L240.3,328 L242.4,328.1 L244.8,327.6 L247.3,327.5 L249.8,327.4 L252.4,326.9 L254.9,326.9 L257.2,326.8 L259.7,326.6 L262.2,325.8 L264.8,325.7 L267.3,325.2 L269.8,325.3 L272.2,324.8 L274.4,324 L276.6,324.2 L279.3,323.7 L281.7,322.9 L284.1,322.3 L286.3,321.4 L288.4,320.6 L290.5,320.3 L293,319.1 L295.3,318.3 L297.6,317.4 L299.7,316.2 L301.6,315.6 L304.2,313.9 L306.4,312.4 L308.5,310.9 L310.8,310.4 L313.1,310.1 L315.4,310.1 L317.7,310.2 L320.1,310.4 L322.4,310.3 L324.1,308.5 L325.7,305.6 L327.3,302.9 L328.8,301.6 L330.1,302.4 L331.2,304.6 L332.3,307.1 L333.5,310.2 L334.4,311.9 L335.3,314.4 L336.3,316.3 L337.4,318.6 L339,319.9 L341,320.1 L343.4,320.6 L346.1,321.2 L348.8,320.7 L351.5,320.9 L353.8,320.4 L356.1,319.9 L358.5,320 L360.9,319.7 L363.2,318.9 L365.4,318.1 L367.7,317.3 L369.6,316.4 L371.6,314.9 L373.8,313.1 L376.5,312 L378.4,311.3 L380.5,310.7 L382.8,310.7 L385.2,309.7 L387.7,309.5 L390.1,309 L392.3,308.4 L394.2,308.5 L395.9,307.8 L399.2,308.3 L401.1,308.5 L402.8,309.1 L405.6,308.2 L408.4,307.9 L410.6,309.6 L412.8,311.3 L415.3,312.7 L417.5,314.3 L419.9,315 L422.1,316.2 L423.6,317" fill="none" stroke="#1a1a1a" stroke-width="1.25" stroke-linejoin="round"/>
<line x1="237.8" y1="302.5" x2="260" y2="302.5" stroke="#1a1a1a" stroke-width="1.3"/>
<text x="262.7" y="306.1" font-size="10.0" fill="#111" text-anchor="start">Pristine</text>
<rect x="237.2" y="13.8" width="186.4" height="318.4" fill="none" stroke="#222" stroke-width="1.3"/>
<line x1="237.2" y1="49" x2="423.6" y2="49" stroke="#222" stroke-width="1.3"/>
<line x1="237.2" y1="84.7" x2="423.6" y2="84.7" stroke="#222" stroke-width="1.3"/>
<line x1="237.2" y1="120.2" x2="423.6" y2="120.2" stroke="#222" stroke-width="1.3"/>
<line x1="237.2" y1="155.5" x2="423.6" y2="155.5" stroke="#222" stroke-width="1.3"/>
<line x1="237.2" y1="190.8" x2="423.6" y2="190.8" stroke="#222" stroke-width="1.3"/>
<line x1="237.2" y1="226.1" x2="423.6" y2="226.1" stroke="#222" stroke-width="1.3"/>
<line x1="237.2" y1="261.4" x2="423.6" y2="261.4" stroke="#222" stroke-width="1.3"/>
<line x1="237.2" y1="296.8" x2="423.6" y2="296.8" stroke="#222" stroke-width="1.3"/>
<line x1="260.5" y1="332.2" x2="260.5" y2="335.2" stroke="#222" stroke-width="1.0"/><line x1="307.1" y1="332.2" x2="307.1" y2="335.2" stroke="#222" stroke-width="1.0"/><line x1="353.7" y1="332.2" x2="353.7" y2="335.2" stroke="#222" stroke-width="1.0"/><line x1="400.3" y1="332.2" x2="400.3" y2="335.2" stroke="#222" stroke-width="1.0"/>
<line x1="237.2" y1="332.2" x2="237.2" y2="334.2" stroke="#222" stroke-width="1.0"/><line x1="283.8" y1="332.2" x2="283.8" y2="334.2" stroke="#222" stroke-width="1.0"/><line x1="330.4" y1="332.2" x2="330.4" y2="334.2" stroke="#222" stroke-width="1.0"/><line x1="377" y1="332.2" x2="377" y2="334.2" stroke="#222" stroke-width="1.0"/><line x1="423.6" y1="332.2" x2="423.6" y2="334.2" stroke="#222" stroke-width="1.0"/>
<text x="260.5" y="344.7" font-size="11.3" fill="#111" text-anchor="middle">512</text>
<text x="307.1" y="344.7" font-size="11.3" fill="#111" text-anchor="middle">516</text>
<text x="353.7" y="344.7" font-size="11.3" fill="#111" text-anchor="middle">520</text>
<text x="400.3" y="344.7" font-size="11.3" fill="#111" text-anchor="middle">524</text>
<text x="329.3" y="358.3" font-size="11.8" fill="#111" text-anchor="middle">Photon energy (eV)</text>
<text x="0" y="0" font-size="12.1" fill="#111" text-anchor="middle" transform="translate(230.4,157.5) rotate(-90)">Intensity (arb. units)</text>
<text x="325.9" y="10.9" font-size="11.2" fill="#111" text-anchor="middle">V-L<tspan dy="3" font-size="8">3</tspan></text>
<text x="405.9" y="10.9" font-size="11.2" fill="#111" text-anchor="middle">V-L<tspan dy="3" font-size="8">2</tspan></text>
<text x="221.9" y="13.3" font-size="21.3" fill="#000" text-anchor="start">c</text>
<rect x="456.3" y="25.8" width="110.7" height="133.5" fill="#f7d9de"/>
<rect x="567" y="25.8" width="107.8" height="133.5" fill="#e9f6fc"/>
<rect x="456.3" y="14.7" width="219.5" height="144.6" fill="none" stroke="#222" stroke-width="1.3"/>
<path d="M465.2,43.3 L533.4,49.2 L551.2,66.4 L565.5,130.4" fill="none" stroke="#e0485a" stroke-width="1.3"/>
<path d="M565.5,130.4 L602.2,54.8 L667,49.1" fill="none" stroke="#1fa8dc" stroke-width="1.3"/>
<circle cx="465.2" cy="43.3" r="3.4" fill="url(#g_r)"/>
<circle cx="533.4" cy="49.2" r="3.4" fill="url(#g_r)"/>
<circle cx="551.2" cy="66.4" r="3.4" fill="url(#g_r)"/>
<circle cx="565.5" cy="130.4" r="3.4" fill="url(#g_r)"/>
<circle cx="565.5" cy="130.4" r="3.4" fill="url(#g_b)"/>
<circle cx="602.2" cy="54.8" r="3.4" fill="url(#g_b)"/>
<circle cx="667" cy="49.1" r="3.4" fill="url(#g_b)"/>
<text x="458.4" y="55.6" font-size="9.5" fill="#111" text-anchor="start">Pristine</text>
<text x="515" y="47.4" font-size="9.5" fill="#111" text-anchor="start">Dch 1.1V</text>
<text x="509.3" y="88.9" font-size="9.5" fill="#111" text-anchor="start">Dch 0.6V</text>
<text x="549.5" y="145" font-size="9.5" fill="#111" text-anchor="start">Dch 0.2V</text>
<text x="583.4" y="49.7" font-size="9.5" fill="#111" text-anchor="start">Ch 1.2V</text>
<text x="648.2" y="45.4" font-size="9.5" fill="#111" text-anchor="start">Ch 3V</text>
<text x="458.6" y="24" font-size="10.3" fill="#111" text-anchor="start">In the bulk</text>
<line x1="457.8" y1="30.8" x2="479.8" y2="30.8" stroke="#e0485a" stroke-width="1.0"/>
<circle cx="468.3" cy="30.8" r="3.4" fill="url(#g_r)"/>
<text x="481.6" y="34.4" font-size="9.6" fill="#111" text-anchor="start">Discharge</text>
<line x1="570" y1="30.3" x2="591.5" y2="30.3" stroke="#1fa8dc" stroke-width="1.0"/>
<circle cx="580.7" cy="30.3" r="3.4" fill="url(#g_b)"/>
<text x="594" y="33.9" font-size="9.6" fill="#111" text-anchor="start">Charge</text>
<line x1="465.3" y1="159.3" x2="465.3" y2="162.3" stroke="#222" stroke-width="1.0"/><line x1="501.2" y1="159.3" x2="501.2" y2="162.3" stroke="#222" stroke-width="1.0"/><line x1="537.1" y1="159.3" x2="537.1" y2="162.3" stroke="#222" stroke-width="1.0"/><line x1="594.9" y1="159.3" x2="594.9" y2="162.3" stroke="#222" stroke-width="1.0"/><line x1="630.8" y1="159.3" x2="630.8" y2="162.3" stroke="#222" stroke-width="1.0"/><line x1="666.4" y1="159.3" x2="666.4" y2="162.3" stroke="#222" stroke-width="1.0"/>
<line x1="483.2" y1="159.3" x2="483.2" y2="161.3" stroke="#222" stroke-width="1.0"/><line x1="519.2" y1="159.3" x2="519.2" y2="161.3" stroke="#222" stroke-width="1.0"/><line x1="551" y1="159.3" x2="551" y2="161.3" stroke="#222" stroke-width="1.0"/><line x1="580.5" y1="159.3" x2="580.5" y2="161.3" stroke="#222" stroke-width="1.0"/><line x1="612.8" y1="159.3" x2="612.8" y2="161.3" stroke="#222" stroke-width="1.0"/><line x1="648.6" y1="159.3" x2="648.6" y2="161.3" stroke="#222" stroke-width="1.0"/>
<line x1="456.3" y1="159.3" x2="453.3" y2="159.3" stroke="#222" stroke-width="1.0"/><line x1="456.3" y1="101.4" x2="453.3" y2="101.4" stroke="#222" stroke-width="1.0"/><line x1="456.3" y1="43.5" x2="453.3" y2="43.5" stroke="#222" stroke-width="1.0"/>
<line x1="456.3" y1="130.4" x2="454.3" y2="130.4" stroke="#222" stroke-width="1.0"/><line x1="456.3" y1="72.5" x2="454.3" y2="72.5" stroke="#222" stroke-width="1.0"/>
<text x="465.3" y="171.4" font-size="11.3" fill="#111" text-anchor="middle">3</text>
<text x="501.2" y="171.4" font-size="11.3" fill="#111" text-anchor="middle">2</text>
<text x="537.1" y="171.4" font-size="11.3" fill="#111" text-anchor="middle">1</text>
<text x="594.9" y="171.4" font-size="11.3" fill="#111" text-anchor="middle">1</text>
<text x="630.8" y="171.4" font-size="11.3" fill="#111" text-anchor="middle">2</text>
<text x="666.4" y="171.4" font-size="11.3" fill="#111" text-anchor="middle">3</text>
<text x="451.8" y="163.3" font-size="11.3" fill="#111" text-anchor="end">3</text>
<text x="451.8" y="105.4" font-size="11.3" fill="#111" text-anchor="end">4</text>
<text x="451.8" y="47.5" font-size="11.3" fill="#111" text-anchor="end">5</text>
<text x="572.5" y="183.5" font-size="12.4" fill="#111" text-anchor="middle">Voltage (V)</text>
<text x="0" y="0" font-size="12.6" fill="#111" text-anchor="middle" transform="translate(442,86.1) rotate(-90)">Standard valence state</text>
<text x="429.8" y="14.4" font-size="21.3" fill="#000" text-anchor="start">d</text>
<rect x="455.8" y="201" width="109.3" height="132.7" fill="#f7d9de"/>
<rect x="565.1" y="201" width="109.4" height="132.7" fill="#e9f6fc"/>
<rect x="455.8" y="189.4" width="219.7" height="144.3" fill="none" stroke="#222" stroke-width="1.3"/>
<path d="M463.7,218.4 L532.2,279.5 L550.4,308.1 L564.3,313.9" fill="none" stroke="#e0485a" stroke-width="1.3"/>
<path d="M564.3,313.9 L600.7,276.4 L665.6,228.8" fill="none" stroke="#1fa8dc" stroke-width="1.3"/>
<circle cx="463.7" cy="218.4" r="3.4" fill="url(#g_r)"/>
<circle cx="532.2" cy="279.5" r="3.4" fill="url(#g_r)"/>
<circle cx="550.4" cy="308.1" r="3.4" fill="url(#g_r)"/>
<circle cx="564.3" cy="313.9" r="3.4" fill="url(#g_r)"/>
<circle cx="564.3" cy="313.9" r="3.4" fill="url(#g_b)"/>
<circle cx="600.7" cy="276.4" r="3.4" fill="url(#g_b)"/>
<circle cx="665.6" cy="228.8" r="3.4" fill="url(#g_b)"/>
<text x="473.4" y="222.2" font-size="9.5" fill="#111" text-anchor="start">Pristine</text>
<text x="529.5" y="273.7" font-size="9.5" fill="#111" text-anchor="start">Dch 1.1V</text>
<text x="505.9" y="315.8" font-size="9.5" fill="#111" text-anchor="start">Dch 0.6V</text>
<text x="547.7" y="328.6" font-size="9.5" fill="#111" text-anchor="start">Dch 0.2V</text>
<text x="575.5" y="268.6" font-size="9.5" fill="#111" text-anchor="start">Ch 1.2V</text>
<text x="635.9" y="226.5" font-size="9.5" fill="#111" text-anchor="start">Ch 3V</text>
<text x="458.1" y="199.2" font-size="10.3" fill="#111" text-anchor="start">In the near-surface</text>
<line x1="457.3" y1="206" x2="479.3" y2="206" stroke="#e0485a" stroke-width="1.0"/>
<circle cx="467.8" cy="206" r="3.4" fill="url(#g_r)"/>
<text x="481.1" y="209.6" font-size="9.6" fill="#111" text-anchor="start">Discharge</text>
<line x1="568.1" y1="205.5" x2="589.6" y2="205.5" stroke="#1fa8dc" stroke-width="1.0"/>
<circle cx="578.8" cy="205.5" r="3.4" fill="url(#g_b)"/>
<text x="592.1" y="209.1" font-size="9.6" fill="#111" text-anchor="start">Charge</text>
<line x1="464.5" y1="333.7" x2="464.5" y2="336.7" stroke="#222" stroke-width="1.0"/><line x1="500.5" y1="333.7" x2="500.5" y2="336.7" stroke="#222" stroke-width="1.0"/><line x1="536.4" y1="333.7" x2="536.4" y2="336.7" stroke="#222" stroke-width="1.0"/><line x1="594.5" y1="333.7" x2="594.5" y2="336.7" stroke="#222" stroke-width="1.0"/><line x1="630.5" y1="333.7" x2="630.5" y2="336.7" stroke="#222" stroke-width="1.0"/><line x1="666" y1="333.7" x2="666" y2="336.7" stroke="#222" stroke-width="1.0"/>
<line x1="482.5" y1="333.7" x2="482.5" y2="335.7" stroke="#222" stroke-width="1.0"/><line x1="518.5" y1="333.7" x2="518.5" y2="335.7" stroke="#222" stroke-width="1.0"/><line x1="550.4" y1="333.7" x2="550.4" y2="335.7" stroke="#222" stroke-width="1.0"/><line x1="580" y1="333.7" x2="580" y2="335.7" stroke="#222" stroke-width="1.0"/><line x1="612.5" y1="333.7" x2="612.5" y2="335.7" stroke="#222" stroke-width="1.0"/><line x1="648.3" y1="333.7" x2="648.3" y2="335.7" stroke="#222" stroke-width="1.0"/>
<line x1="455.8" y1="333.7" x2="452.8" y2="333.7" stroke="#222" stroke-width="1.0"/><line x1="455.8" y1="276" x2="452.8" y2="276" stroke="#222" stroke-width="1.0"/><line x1="455.8" y1="218.3" x2="452.8" y2="218.3" stroke="#222" stroke-width="1.0"/>
<line x1="455.8" y1="304.8" x2="453.8" y2="304.8" stroke="#222" stroke-width="1.0"/><line x1="455.8" y1="247.1" x2="453.8" y2="247.1" stroke="#222" stroke-width="1.0"/>
<text x="464.5" y="349" font-size="11.3" fill="#111" text-anchor="middle">3</text>
<text x="500.5" y="349" font-size="11.3" fill="#111" text-anchor="middle">2</text>
<text x="536.4" y="349" font-size="11.3" fill="#111" text-anchor="middle">1</text>
<text x="594.5" y="349" font-size="11.3" fill="#111" text-anchor="middle">1</text>
<text x="630.5" y="349" font-size="11.3" fill="#111" text-anchor="middle">2</text>
<text x="666" y="349" font-size="11.3" fill="#111" text-anchor="middle">3</text>
<text x="451.3" y="337.7" font-size="11.3" fill="#111" text-anchor="end">3</text>
<text x="451.3" y="280" font-size="11.3" fill="#111" text-anchor="end">4</text>
<text x="451.3" y="222.3" font-size="11.3" fill="#111" text-anchor="end">5</text>
<text x="565.9" y="360.8" font-size="12.4" fill="#111" text-anchor="middle">Voltage (V)</text>
<text x="0" y="0" font-size="13.2" fill="#111" text-anchor="middle" transform="translate(440.6,261.2) rotate(-90)">Standard valence state</text>
<text x="430.5" y="188.2" font-size="21.3" fill="#000" text-anchor="start">e</text>
<rect x="59.9" y="374.9" width="4.8" height="171.7" fill="#f9bf86"/>
<rect x="69.9" y="374.9" width="4.6" height="171.7" fill="#f3cce0"/>
<path d="M33.4,429.4 C35.2,429.4 40.9,429.9 44.3,429.4 C47.7,428.9 51,428.6 53.8,426.6 C56.6,424.6 58.7,420.4 60.9,417.5 C63.1,414.6 65.3,412.1 66.8,409.2 C68.3,406.3 69,402.8 70,400 C71,397.2 71.7,392.5 72.8,392.6 C73.9,392.8 75.2,397.3 76.4,400.9 C77.6,404.5 78.8,411 79.9,414 C81,417 81.2,418.5 82.8,418.7 C84.4,418.9 86.3,417.4 89.4,415.2 C92.5,413 97.3,408.7 101.3,405.7 C105.3,402.7 109.2,399.7 113.2,397.3 C117.2,394.9 121.1,392.6 125.1,391.4 C129.1,390.2 132.2,390.7 137,390.2 C141.8,389.7 148.8,388.5 153.6,388.5 C158.3,388.5 161.5,389.3 165.5,390.2 C169.5,391.1 175.8,393.2 177.8,393.8" fill="none" stroke="#c8aa52" stroke-width="1.1"/>
<path d="M33.4,462.7 C35.2,462.7 40.9,463.3 44.3,462.7 C47.7,462.1 51,460.9 53.8,459.1 C56.6,457.3 58.7,454.6 60.9,452 C63.1,449.4 65.3,446.9 66.8,443.7 C68.3,440.5 69,436.1 70,433 C71,429.9 71.7,424.9 72.8,425.1 C73.9,425.3 75.2,430.7 76.4,434.2 C77.6,437.7 78.8,443.3 79.9,446.1 C81,448.9 81.2,450.8 82.8,450.8 C84.4,450.8 86.3,448.5 89.4,446.1 C92.5,443.7 97.3,439.6 101.3,436.6 C105.3,433.6 109.2,430.6 113.2,428.2 C117.2,425.8 119.9,423.4 125.1,422.3 C130.2,421.2 138.5,421.8 144.1,421.8 C149.7,421.8 154.4,421.8 158.4,422.3 C162.4,422.8 164.7,423.7 167.9,424.7 C171.1,425.7 176.2,427.6 177.8,428.2" fill="none" stroke="#48b058" stroke-width="1.1"/>
<path d="M33.4,494.8 C34.8,494.3 39.7,492.2 41.9,491.7 C44.1,491.2 44.6,492.6 46.6,491.7 C48.6,490.8 51.4,488.4 53.8,486.5 C56.2,484.6 59.1,481.7 60.9,480.5 C62.7,479.3 63.3,480.1 64.5,479.3 C65.7,478.5 66.7,478 68,475.8 C69.3,473.6 70.9,466.5 72.3,466.3 C73.7,466.1 74.7,471.6 76.4,474.6 C78.2,477.6 80.2,483.7 82.8,484.1 C85.4,484.5 87.9,480.2 91.8,477 C95.7,473.8 100.5,468.9 106.1,465.1 C111.6,461.3 119.6,456 125.1,454.4 C130.6,452.8 133.8,455.2 139.3,455.6 C144.9,456 153.2,455.8 158.4,456.8 C163.6,457.8 167,460.1 170.2,461.5 C173.4,462.9 176.5,464.5 177.8,465.1" fill="none" stroke="#22b0e4" stroke-width="1.1"/>
<path d="M33.4,512.6 C33.8,511.2 34.6,506.6 35.9,504.3 C37.2,502 39.6,499 41.4,498.8 C43.2,498.6 44.5,501.7 46.6,503.1 C48.7,504.5 51.4,505.6 53.8,507.4 C56.2,509.2 58.5,511.1 60.9,513.8 C63.3,516.4 65.6,520.9 68,523.3 C70.4,525.7 72,526.7 75.2,528.1 C78.4,529.5 82.7,531.5 87,531.6 C91.3,531.7 96.1,529.8 101.3,528.8 C106.5,527.8 112.8,525.9 118,525.7 C123.2,525.5 127,527 132.2,527.4 C137.3,527.8 143.8,527.6 148.9,528.1 C154.1,528.6 158.3,529.6 163.1,530.4 C167.9,531.2 175.4,532.4 177.8,532.8" fill="none" stroke="#1a1a1a" stroke-width="1.1"/>
<rect x="33.4" y="374.3" width="144.4" height="172.9" fill="none" stroke="#222" stroke-width="1.3"/>
<line x1="42.7" y1="547.2" x2="42.7" y2="550.2" stroke="#222" stroke-width="1.0"/><line x1="85.2" y1="547.2" x2="85.2" y2="550.2" stroke="#222" stroke-width="1.0"/><line x1="127.7" y1="547.2" x2="127.7" y2="550.2" stroke="#222" stroke-width="1.0"/><line x1="170.2" y1="547.2" x2="170.2" y2="550.2" stroke="#222" stroke-width="1.0"/>
<line x1="64" y1="547.2" x2="64" y2="549.2" stroke="#222" stroke-width="1.0"/><line x1="106.4" y1="547.2" x2="106.4" y2="549.2" stroke="#222" stroke-width="1.0"/><line x1="148.9" y1="547.2" x2="148.9" y2="549.2" stroke="#222" stroke-width="1.0"/>
<text x="42.7" y="561.7" font-size="11.3" fill="#111" text-anchor="middle">530</text>
<text x="85.2" y="561.7" font-size="11.3" fill="#111" text-anchor="middle">535</text>
<text x="127.7" y="561.7" font-size="11.3" fill="#111" text-anchor="middle">540</text>
<text x="170.2" y="561.7" font-size="11.3" fill="#111" text-anchor="middle">545</text>
<text x="38.1" y="387.1" font-size="10.4" fill="#111" text-anchor="start">TEY</text>
<text x="170.5" y="387.6" font-size="10.2" fill="#c8aa52" text-anchor="end">100 cycles</text>
<text x="173" y="417.2" font-size="10.2" fill="#48b058" text-anchor="end">Dch 0.2 V</text>
<text x="175" y="452.3" font-size="10.2" fill="#22b0e4" text-anchor="end">Dch 1.1 V</text>
<text x="173.5" y="523.8" font-size="10.2" fill="#1a1a1a" text-anchor="end">Pristine</text>
<text x="34.2" y="529" font-size="10.5" fill="#f39032" text-anchor="start">LEDC</text>
<line x1="57" y1="517.8" x2="61.5" y2="513.7" stroke="#f39032" stroke-width="1.0"/>
<text x="77.6" y="544" font-size="10.5" fill="#eca4cc" text-anchor="start">LEMC</text>
<line x1="75.3" y1="526.1" x2="83.9" y2="533.4" stroke="#eca4cc" stroke-width="0.9"/>
<text x="109.5" y="574.6" font-size="11.8" fill="#111" text-anchor="middle">Photon energy (eV)</text>
<text x="0" y="0" font-size="11.8" fill="#111" text-anchor="middle" transform="translate(20.6,450.5) rotate(-90)">Intensity (arb. units)</text>
<text x="14.3" y="383.5" font-size="21.3" fill="#000" text-anchor="start">f</text>
<rect x="225.7" y="374.9" width="4.6" height="171.9" fill="#f9bf86"/>
<rect x="237.0" y="374.9" width="4.5" height="171.9" fill="#f3cce0"/>
<path d="M197.2,439.6 C198.3,438.7 201.3,435.7 203.9,434.4 C206.5,433.1 210.2,433.5 213,432 C215.8,430.5 217.8,427.2 220.6,425.3 C223.4,423.4 227.6,422.9 230,420.8 C232.4,418.8 233.4,416.8 235,413 C236.6,409.2 238.1,399.3 239.4,398 C240.7,396.7 241.6,402.5 243,405 C244.4,407.5 245.9,410.8 247.9,413.2 C249.9,415.6 252.5,418 255,419.5 C257.5,421 258.8,422.7 263,422.3 C267.2,421.9 274.4,418.8 280,417 C285.6,415.2 291.7,413.3 296.5,411.6 C301.3,409.9 304.8,408.3 308.7,407 C312.6,405.7 315.9,405 320,404 C324.1,403 329.3,401.3 333,401 C336.7,400.7 340.5,401.8 342,402" fill="none" stroke="#c8aa52" stroke-width="1.1"/>
<path d="M197.2,473.9 C198.3,473.1 201.7,470.1 204,469 C206.3,467.9 208.3,468 211,467 C213.7,466 216.8,464.5 220,463 C223.2,461.5 227.5,460.3 230,457.8 C232.5,455.3 233.4,451.9 235,448 C236.6,444.1 237.9,435.1 239.4,434.4 C240.9,433.7 242.4,441.2 244,444 C245.6,446.8 247.4,449.4 249,451 C250.6,452.6 251.2,454.1 253.4,453.3 C255.6,452.5 258.4,448.7 262,446 C265.6,443.3 270.7,439.7 275,437 C279.3,434.3 283.8,431.7 288,430 C292.2,428.3 296.3,427.4 300,426.8 C303.7,426.2 305.8,425.9 310,426.2 C314.2,426.5 319.7,427.5 325,428.5 C330.3,429.5 339.2,431.7 342,432.3" fill="none" stroke="#48b058" stroke-width="1.1"/>
<path d="M197.2,502.8 C198.3,501.3 201.7,496 204,494 C206.3,492 208.3,491.9 211,490.6 C213.7,489.3 216.8,487.5 220,486 C223.2,484.5 227.5,483 230,481.5 C232.5,480 233.4,479 235,477 C236.6,475 237.9,469.2 239.4,469.4 C240.9,469.6 242.2,475.5 244,478 C245.8,480.5 248,484.5 250,484.5 C252,484.5 253,480.6 256,478 C259,475.4 263.2,471.8 268,469 C272.8,466.2 279.7,463.1 285,461 C290.3,458.9 295,457.3 300,456.6 C305,455.9 310,456.4 315,457 C320,457.6 325.5,459.1 330,460 C334.5,460.9 340,462.2 342,462.7" fill="none" stroke="#22b0e4" stroke-width="1.1"/>
<path d="M197.2,525.5 C197.5,523.8 198,518.2 199,515 C200,511.8 201.7,507.8 203,506 C204.3,504.2 205.6,504.1 206.9,504.3 C208.2,504.6 209.5,506.6 211,507.5 C212.5,508.4 214.5,509.4 216,509.7 C217.5,509.9 218.7,509.2 220,509 C221.3,508.8 222.6,507.9 223.9,508.4 C225.2,508.9 226.7,510.1 228,512 C229.3,513.9 230.5,517.2 232,520 C233.5,522.8 235.3,526.8 237,529 C238.7,531.2 240.2,532.5 242,533.5 C243.8,534.5 245.4,535.2 247.6,535.3 C249.8,535.4 252.1,535 255,534 C257.9,533 261.7,530.8 265,529 C268.3,527.2 271.7,524.7 275,523 C278.3,521.3 281.7,519.9 285,519 C288.3,518.1 291.7,517.7 295,517.5 C298.3,517.3 300.8,517.9 305,518 C309.2,518.1 315.5,518.2 320,518 C324.5,517.8 328.3,516.8 332,516.5 C335.7,516.2 340.3,516.4 342,516.4" fill="none" stroke="#1a1a1a" stroke-width="1.1"/>
<rect x="197.2" y="374.3" width="144.8" height="173.1" fill="none" stroke="#222" stroke-width="1.3"/>
<line x1="206.2" y1="547.4" x2="206.2" y2="550.4" stroke="#222" stroke-width="1.0"/><line x1="251.5" y1="547.4" x2="251.5" y2="550.4" stroke="#222" stroke-width="1.0"/><line x1="296.8" y1="547.4" x2="296.8" y2="550.4" stroke="#222" stroke-width="1.0"/><line x1="342" y1="547.4" x2="342" y2="550.4" stroke="#222" stroke-width="1.0"/>
<line x1="228.9" y1="547.4" x2="228.9" y2="549.4" stroke="#222" stroke-width="1.0"/><line x1="274.1" y1="547.4" x2="274.1" y2="549.4" stroke="#222" stroke-width="1.0"/><line x1="319.4" y1="547.4" x2="319.4" y2="549.4" stroke="#222" stroke-width="1.0"/>
<text x="206.2" y="561.7" font-size="11.3" fill="#111" text-anchor="middle">530</text>
<text x="251.5" y="561.7" font-size="11.3" fill="#111" text-anchor="middle">535</text>
<text x="296.8" y="561.7" font-size="11.3" fill="#111" text-anchor="middle">540</text>
<text x="342" y="561.7" font-size="11.3" fill="#111" text-anchor="middle">545</text>
<text x="199.5" y="387.1" font-size="10.4" fill="#111" text-anchor="start">TFY</text>
<text x="341.5" y="396.8" font-size="10.2" fill="#c8aa52" text-anchor="end">100 cycles</text>
<text x="341.5" y="424.5" font-size="10.2" fill="#48b058" text-anchor="end">Dch 0.2 V</text>
<text x="339" y="454" font-size="10.2" fill="#22b0e4" text-anchor="end">Dch 1.1 V</text>
<text x="332.4" y="512.6" font-size="10.2" fill="#1a1a1a" text-anchor="end">Pristine</text>
<text x="198.7" y="536.4" font-size="10.5" fill="#f39032" text-anchor="start">LEDC</text>
<line x1="222.6" y1="526.1" x2="226.5" y2="522.2" stroke="#f39032" stroke-width="1.0"/>
<text x="243.3" y="546.4" font-size="10.5" fill="#eca4cc" text-anchor="start">LEMC</text>
<line x1="240.3" y1="527.5" x2="249.5" y2="535.3" stroke="#eca4cc" stroke-width="0.9"/>
<text x="270.2" y="577.4" font-size="11.8" fill="#111" text-anchor="middle">Photon energy (eV)</text>
<text x="182.6" y="379.5" font-size="21.3" fill="#000" text-anchor="start">g</text>
<rect x="413.0" y="374.9" width="5.1" height="172.7" fill="#c0e5da"/>
<rect x="482.0" y="374.9" width="5.2" height="172.7" fill="#c0e5da"/>
<path d="M362.8,434.7 C366.3,434.5 378.7,434.3 383.8,433.7 C388.9,433.1 390.5,433 393.3,431.3 C396.1,429.6 398.4,425.6 400.4,423.5 C402.4,421.4 403.6,422.1 405.2,418.7 C406.8,415.3 408.6,409 409.9,403.3 C411.2,397.6 411.9,388.7 412.8,384.3 C413.7,379.9 414.2,377.7 415.1,377.1 C416,376.5 416.7,380 418.2,380.7 C419.7,381.4 421.6,380 424.2,381.4 C426.8,382.8 430.5,387.1 433.7,389 C436.9,390.9 440.4,390.6 443.2,392.6 C446,394.6 447.9,397.9 450.3,400.9 C452.7,403.9 455.1,408.2 457.5,410.4 C459.9,412.6 460.7,413.8 464.6,414 C468.6,414.2 476.4,411 481.2,411.6 C485.9,412.2 488.8,415.1 493.1,417.5 C497.4,419.9 504.9,424.8 507.2,426.3" fill="none" stroke="#c8aa52" stroke-width="1.1"/>
<path d="M362.8,467 C367.5,466.7 384.8,466.8 390.9,465.1 C397,463.4 397,458.8 399.2,456.8 C401.4,454.8 402.4,455.8 404,453.2 C405.6,450.6 407.3,446.9 408.7,441.3 C410.1,435.8 411.2,425.2 412.3,419.9 C413.4,414.5 414,410.2 415.1,409.2 C416.2,408.2 417.5,413.4 418.9,414 C420.3,414.6 421.6,411.8 423.7,412.8 C425.8,413.8 428.1,417.9 431.3,419.9 C434.6,421.9 440,422.9 443.2,424.7 C446.4,426.5 447.5,427.8 450.3,430.6 C453.1,433.4 457,438.7 459.8,441.3 C462.6,443.9 463.4,445.6 467,446.1 C470.6,446.6 476.8,443.6 481.2,444.2 C485.6,444.8 488.8,447.2 493.1,449.6 C497.4,452 504.9,457 507.2,458.5" fill="none" stroke="#48b058" stroke-width="1.1"/>
<path d="M362.8,509.1 C364.7,509.3 370.8,510.4 374.3,510.2 C377.8,510 381,511.1 383.8,507.9 C386.6,504.7 388.5,498.3 390.9,491.2 C393.3,484.1 396,470.2 398,465.1 C400,460 400.3,462.5 402.8,460.3 C405.3,458.1 409.6,452 412.8,452 C416,452 418.9,457.9 421.8,460.3 C424.7,462.7 427.7,465.7 430.1,466.3 C432.5,466.9 434,464.6 436,464 C438,463.4 439.6,462.1 442,462.7 C444.4,463.3 446.1,464.9 450.3,467.5 C454.5,470.1 461.4,475 467,478.2 C472.6,481.4 476.9,484 483.6,486.5 C490.3,489 503.3,492.2 507.2,493.3" fill="none" stroke="#22b0e4" stroke-width="1.1"/>
<path d="M362.8,541.6 C365.1,541.5 373.5,541.8 376.6,541.1 C379.7,540.4 379.8,540.5 381.4,537.6 C383,534.8 384.4,529 386,524 C387.6,519 389.4,512.6 390.9,507.9 C392.4,503.2 393.8,498.8 395,496 C396.2,493.2 396.5,492.4 398,491.2 C399.5,490 401.8,489.9 404,488.8 C406.2,487.7 408.9,484.2 411.1,484.6 C413.3,485 414.4,488.3 417,491.2 C419.6,494.1 423,499.3 426.6,501.9 C430.2,504.5 434.4,504.9 438.4,506.7 C442.3,508.5 445.9,510.6 450.3,512.6 C454.7,514.6 460.2,517.4 464.6,518.6 C469,519.8 471.8,519.4 476.5,519.8 C481.2,520.2 488,520.4 493.1,520.9 C498.2,521.4 504.9,522.3 507.2,522.6" fill="none" stroke="#1a1a1a" stroke-width="1.1"/>
<rect x="362.8" y="374.3" width="144.4" height="173.9" fill="none" stroke="#222" stroke-width="1.3"/>
<line x1="393.8" y1="548.2" x2="393.8" y2="551.2" stroke="#222" stroke-width="1.0"/><line x1="431.6" y1="548.2" x2="431.6" y2="551.2" stroke="#222" stroke-width="1.0"/><line x1="469.4" y1="548.2" x2="469.4" y2="551.2" stroke="#222" stroke-width="1.0"/><line x1="507.2" y1="548.2" x2="507.2" y2="551.2" stroke="#222" stroke-width="1.0"/>
<line x1="374.9" y1="548.2" x2="374.9" y2="550.2" stroke="#222" stroke-width="1.0"/><line x1="412.7" y1="548.2" x2="412.7" y2="550.2" stroke="#222" stroke-width="1.0"/><line x1="450.5" y1="548.2" x2="450.5" y2="550.2" stroke="#222" stroke-width="1.0"/><line x1="488.3" y1="548.2" x2="488.3" y2="550.2" stroke="#222" stroke-width="1.0"/>
<text x="393.8" y="561.7" font-size="11.3" fill="#111" text-anchor="middle">690</text>
<text x="431.6" y="561.7" font-size="11.3" fill="#111" text-anchor="middle">695</text>
<text x="469.4" y="561.7" font-size="11.3" fill="#111" text-anchor="middle">700</text>
<text x="507.2" y="561.7" font-size="11.3" fill="#111" text-anchor="middle">705</text>
<text x="365.8" y="387.1" font-size="10.4" fill="#111" text-anchor="start">TEY</text>
<text x="505.7" y="404.8" font-size="10.2" fill="#c8aa52" text-anchor="end">100 cycles</text>
<text x="502.7" y="441.9" font-size="10.2" fill="#48b058" text-anchor="end">Dch 0.2V</text>
<text x="503.6" y="471.7" font-size="10.2" fill="#22b0e4" text-anchor="end">Dch 1.1V</text>
<text x="495.7" y="512.8" font-size="10.2" fill="#1a1a1a" text-anchor="end">Pristine</text>
<text x="420.6" y="538.6" font-size="10.2" fill="#8fd2b4" text-anchor="start">LiF</text>
<text x="442.3" y="577.4" font-size="11.8" fill="#111" text-anchor="middle">Photon energy (eV)</text>
<text x="346.5" y="381.6" font-size="21.3" fill="#000" text-anchor="start">h</text>
<rect x="578.0" y="374.9" width="5.4" height="172.1" fill="#c0e5da"/>
<rect x="645.8" y="374.9" width="5.7" height="172.1" fill="#c0e5da"/>
<path d="M527.8,431.3 C528.5,431.6 530.6,432.4 532.1,433 C533.6,433.6 535.1,434.8 536.9,434.7 C538.7,434.6 540.8,432.8 542.8,432.3 C544.8,431.8 546.2,432.5 548.8,431.8 C551.4,431.1 555.8,429.5 558.3,428.2 C560.8,426.9 562.2,425.8 564,424 C565.8,422.2 567.2,421.4 569,417.5 C570.8,413.6 572.8,406.4 574.9,400.9 C577,395.4 579.2,386.5 581.6,384.3 C584,382.1 586.8,386.4 589.2,387.8 C591.7,389.2 593.3,391.4 596.3,392.6 C599.3,393.8 603.8,393.6 607,395 C610.2,396.4 612.3,398.2 615.3,400.9 C618.3,403.5 622,408.8 624.8,410.9 C627.6,413 628.6,413.2 632,413.3 C635.4,413.4 640.6,411.1 645,411.6 C649.4,412.1 653.1,414.4 658.1,416.4 C663.1,418.4 671.9,422.3 674.7,423.5" fill="none" stroke="#c8aa52" stroke-width="1.1"/>
<path d="M527.8,463.9 C529.3,464.3 534.4,466.2 536.9,466.3 C539.4,466.4 540.4,464.9 542.8,464.4 C545.2,463.9 548.5,463.9 551.1,463.2 C553.7,462.5 556.1,461.7 558.3,460.3 C560.4,458.9 562.2,457 564,455 C565.8,453 567.2,451.9 569,448.4 C570.8,444.9 572.8,439.5 574.9,434.2 C577,428.9 579.4,419 581.6,416.4 C583.8,413.8 585.5,417.4 588,418.7 C590.5,420 593.1,422.6 596.3,424.2 C599.5,425.8 603.6,426.3 607,428.2 C610.4,430.1 613.1,432.8 616.5,435.4 C619.9,438 624.6,442.1 627.2,443.7 C629.8,445.3 628.8,445.1 632,444.9 C635.2,444.7 641.9,442.1 646.2,442.5 C650.6,442.9 653.4,445.2 658.1,447.3 C662.9,449.4 671.9,453.8 674.7,455.1" fill="none" stroke="#48b058" stroke-width="1.1"/>
<path d="M527.8,505 C529.3,505.8 534.6,509.5 536.9,509.8 C539.2,510.1 539.6,508 541.6,506.7 C543.6,505.4 546.4,505.7 548.8,501.9 C551.2,498.1 553.3,489.8 555.9,484.1 C558.5,478.4 561.8,470.9 564.2,467.5 C566.6,464.1 567.8,465.4 570.2,463.9 C572.6,462.4 575.7,458.4 578.5,458.4 C581.3,458.4 583.8,462.3 586.8,463.9 C589.8,465.5 592.9,466.9 596.3,467.9 C599.7,468.9 603,468.5 607,469.8 C611,471.1 615.9,474.3 620.1,475.8 C624.3,477.3 627.2,477.8 632,478.9 C636.8,480 641.5,481.1 648.6,482.2 C655.7,483.3 670.4,484.8 674.7,485.3" fill="none" stroke="#22b0e4" stroke-width="1.1"/>
<path d="M527.8,537.6 C528.5,538 530.6,539.3 532.1,540 C533.6,540.7 535.3,542 536.9,541.6 C538.5,541.2 539.6,539.1 541.6,537.6 C543.6,536.1 546.6,536.2 548.8,532.8 C551,529.4 552.5,523.3 554.7,517.4 C556.9,511.5 559.8,501.2 561.8,497.2 C563.8,493.2 564,494.6 566.6,493.6 C569.2,492.6 574.3,490.8 577.3,491.2 C580.3,491.6 581.8,494.2 584.4,496 C587,497.8 589.1,500.1 592.7,501.9 C596.3,503.7 601.2,504.9 605.8,506.7 C610.4,508.5 615.7,511.2 620.1,512.6 C624.5,514 627.2,514.4 632,515 C636.8,515.6 641.5,515.9 648.6,516.2 C655.7,516.5 670.4,516.6 674.7,516.7" fill="none" stroke="#1a1a1a" stroke-width="1.1"/>
<rect x="527.8" y="374.3" width="146.9" height="173.3" fill="none" stroke="#222" stroke-width="1.3"/>
<line x1="558.7" y1="547.6" x2="558.7" y2="550.6" stroke="#222" stroke-width="1.0"/><line x1="597.4" y1="547.6" x2="597.4" y2="550.6" stroke="#222" stroke-width="1.0"/><line x1="636" y1="547.6" x2="636" y2="550.6" stroke="#222" stroke-width="1.0"/><line x1="674.7" y1="547.6" x2="674.7" y2="550.6" stroke="#222" stroke-width="1.0"/>
<line x1="539.4" y1="547.6" x2="539.4" y2="549.6" stroke="#222" stroke-width="1.0"/><line x1="578.1" y1="547.6" x2="578.1" y2="549.6" stroke="#222" stroke-width="1.0"/><line x1="616.7" y1="547.6" x2="616.7" y2="549.6" stroke="#222" stroke-width="1.0"/><line x1="655.4" y1="547.6" x2="655.4" y2="549.6" stroke="#222" stroke-width="1.0"/>
<text x="558.7" y="561.7" font-size="11.3" fill="#111" text-anchor="middle">690</text>
<text x="597.4" y="561.7" font-size="11.3" fill="#111" text-anchor="middle">695</text>
<text x="636" y="561.7" font-size="11.3" fill="#111" text-anchor="middle">700</text>
<text x="674.7" y="561.7" font-size="11.3" fill="#111" text-anchor="middle">705</text>
<text x="531.8" y="387.1" font-size="10.4" fill="#111" text-anchor="start">TFY</text>
<text x="672.2" y="400.8" font-size="10.2" fill="#c8aa52" text-anchor="end">100 cycles</text>
<text x="670.1" y="434.6" font-size="10.2" fill="#48b058" text-anchor="end">Dch 0.2V</text>
<text x="669.2" y="471.7" font-size="10.2" fill="#22b0e4" text-anchor="end">Dch 1.1V</text>
<text x="663.1" y="510.3" font-size="10.2" fill="#1a1a1a" text-anchor="end">Pristine</text>
<text x="586.5" y="542.4" font-size="10.2" fill="#5fc070" text-anchor="start">LiF</text>
<text x="614.5" y="577.4" font-size="11.8" fill="#111" text-anchor="middle">Photon energy (eV)</text>
<text x="518.2" y="383.5" font-size="21.3" fill="#000" text-anchor="start">i</text>
<line x1="103" y1="611.5" x2="103" y2="661.5" stroke="#dca6e8" stroke-width="0.7"/><line x1="103" y1="661.5" x2="61.5" y2="682.5" stroke="#dca6e8" stroke-width="0.7"/><line x1="103" y1="661.5" x2="144.5" y2="682.5" stroke="#dca6e8" stroke-width="0.7"/>
<clipPath id="c1clip"><polygon points="57.0,630.5 103.0,616.5 148.0,630.5 147.0,673.5 103.0,699.5 61.0,673.5"/></clipPath>
<rect x="55.0" y="631.5" width="96" height="75" fill="url(#fadeN)" filter="url(#navyTex)" clip-path="url(#c1clip)"/>
<line x1="103" y1="611.5" x2="54.5" y2="627" stroke="#dca6e8" stroke-width="0.7"/><line x1="103" y1="611.5" x2="151.5" y2="627" stroke="#dca6e8" stroke-width="0.7"/><line x1="54.5" y1="627" x2="61.5" y2="682.5" stroke="#dca6e8" stroke-width="0.7"/><line x1="151.5" y1="627" x2="144.5" y2="682.5" stroke="#dca6e8" stroke-width="0.7"/><line x1="103" y1="648.5" x2="103" y2="712" stroke="#dca6e8" stroke-width="0.7"/><line x1="61.5" y1="682.5" x2="103" y2="712" stroke="#dca6e8" stroke-width="0.7"/><line x1="144.5" y1="682.5" x2="103" y2="712" stroke="#dca6e8" stroke-width="0.7"/><line x1="54.5" y1="627" x2="103" y2="648.5" stroke="#dca6e8" stroke-width="0.7"/><line x1="103" y1="648.5" x2="151.5" y2="627" stroke="#dca6e8" stroke-width="0.7"/>
<polygon points="58.0,630.5 103.0,616.0 147.0,630.5 103.0,649.5" fill="#000" filter="url(#slabTex)"/>
<g clip-path="url(#c1slab)"><rect x="71.6" y="626.5" width="1.4" height="0.7" fill="#8a88c8" opacity="0.52"/><rect x="103.7" y="617.5" width="0.6" height="1.1" fill="#8a88c8" opacity="0.44"/><rect x="63.3" y="634.2" width="1.3" height="1.7" fill="#8a88c8" opacity="0.65"/><rect x="145.9" y="629.0" width="0.7" height="1.6" fill="#6462a8" opacity="0.55"/><rect x="109.4" y="633.9" width="1.3" height="1.4" fill="#8a88c8" opacity="0.65"/><rect x="91.5" y="637.2" width="1.3" height="0.7" fill="#8a88c8" opacity="0.67"/><rect x="105.9" y="632.4" width="1.5" height="1.2" fill="#c8c8e8" opacity="0.52"/><rect x="74.2" y="623.9" width="1.5" height="0.7" fill="#6462a8" opacity="0.62"/><rect x="123.7" y="645.3" width="0.9" height="1.8" fill="#8a88c8" opacity="0.61"/><rect x="88.8" y="621.1" width="1.7" height="1.1" fill="#8a88c8" opacity="0.76"/><rect x="136.8" y="635.0" width="1.0" height="1.4" fill="#c8c8e8" opacity="0.65"/><rect x="133.6" y="631.0" width="1.7" height="1.2" fill="#8a88c8" opacity="0.34"/><rect x="116.2" y="639.4" width="1.8" height="1.6" fill="#6462a8" opacity="0.73"/><rect x="89.2" y="645.7" width="1.7" height="1.0" fill="#8a88c8" opacity="0.60"/><rect x="83.9" y="622.9" width="1.5" height="1.1" fill="#c8c8e8" opacity="0.35"/><rect x="107.4" y="630.8" width="1.7" height="1.6" fill="#6462a8" opacity="0.72"/><rect x="119.4" y="649.0" width="1.1" height="0.9" fill="#8a88c8" opacity="0.41"/><rect x="79.0" y="623.4" width="1.2" height="1.3" fill="#6462a8" opacity="0.47"/><rect x="106.1" y="620.5" width="1.3" height="1.0" fill="#ffffff" opacity="0.71"/><rect x="113.6" y="633.0" width="1.4" height="0.7" fill="#c8c8e8" opacity="0.54"/><rect x="101.3" y="628.9" width="1.1" height="0.8" fill="#ffffff" opacity="0.56"/><rect x="112.1" y="619.2" width="0.7" height="1.3" fill="#8a88c8" opacity="0.87"/><rect x="64.3" y="636.4" width="0.8" height="1.1" fill="#6462a8" opacity="0.87"/><rect x="100.7" y="636.0" width="0.7" height="1.2" fill="#c8c8e8" opacity="0.59"/><rect x="71.0" y="626.1" width="1.5" height="1.5" fill="#c8c8e8" opacity="0.80"/><rect x="60.1" y="621.0" width="1.7" height="1.2" fill="#ffffff" opacity="0.71"/><rect x="126.2" y="646.6" width="1.0" height="1.4" fill="#8a88c8" opacity="0.72"/><rect x="91.0" y="624.4" width="0.8" height="1.5" fill="#6462a8" opacity="0.68"/><rect x="129.0" y="636.3" width="1.5" height="0.8" fill="#ffffff" opacity="0.79"/><rect x="78.4" y="640.7" width="1.2" height="1.0" fill="#8a88c8" opacity="0.89"/><rect x="100.5" y="642.4" width="0.8" height="1.3" fill="#6462a8" opacity="0.57"/><rect x="146.9" y="647.4" width="1.7" height="1.0" fill="#ffffff" opacity="0.36"/><rect x="88.4" y="631.5" width="1.2" height="1.8" fill="#8a88c8" opacity="0.59"/><rect x="130.0" y="637.7" width="0.7" height="1.4" fill="#c8c8e8" opacity="0.77"/><rect x="101.0" y="641.0" width="0.8" height="1.5" fill="#6462a8" opacity="0.35"/><rect x="123.0" y="647.7" width="1.2" height="1.5" fill="#8a88c8" opacity="0.73"/><rect x="69.4" y="621.3" width="0.8" height="1.7" fill="#ffffff" opacity="0.67"/><rect x="100.7" y="635.8" width="1.7" height="0.8" fill="#ffffff" opacity="0.31"/><rect x="123.4" y="642.7" width="0.7" height="1.5" fill="#ffffff" opacity="0.56"/><rect x="132.4" y="645.1" width="0.9" height="0.9" fill="#6462a8" opacity="0.60"/><rect x="87.3" y="641.5" width="1.3" height="1.6" fill="#8a88c8" opacity="0.85"/><rect x="99.2" y="627.5" width="1.3" height="1.7" fill="#c8c8e8" opacity="0.80"/><rect x="69.8" y="645.4" width="0.8" height="1.2" fill="#c8c8e8" opacity="0.77"/><rect x="127.8" y="636.2" width="0.8" height="0.8" fill="#8a88c8" opacity="0.63"/><rect x="104.7" y="626.6" width="1.3" height="1.5" fill="#8a88c8" opacity="0.83"/><rect x="75.2" y="617.4" width="0.7" height="0.7" fill="#c8c8e8" opacity="0.64"/><rect x="140.1" y="641.3" width="1.1" height="1.3" fill="#ffffff" opacity="0.72"/><rect x="106.0" y="630.9" width="1.2" height="1.7" fill="#6462a8" opacity="0.85"/><rect x="76.2" y="645.9" width="1.1" height="1.1" fill="#c8c8e8" opacity="0.57"/><rect x="79.7" y="618.0" width="0.7" height="1.4" fill="#8a88c8" opacity="0.84"/><rect x="122.5" y="620.8" width="1.4" height="0.8" fill="#ffffff" opacity="0.88"/><rect x="143.7" y="623.0" width="1.1" height="1.2" fill="#ffffff" opacity="0.40"/><rect x="104.4" y="630.2" width="1.0" height="0.8" fill="#6462a8" opacity="0.36"/><rect x="88.4" y="627.9" width="1.2" height="1.4" fill="#c8c8e8" opacity="0.50"/><rect x="104.1" y="636.7" width="0.7" height="1.8" fill="#ffffff" opacity="0.88"/><rect x="81.9" y="619.1" width="0.6" height="1.5" fill="#6462a8" opacity="0.75"/><rect x="134.5" y="643.4" width="1.4" height="1.7" fill="#c8c8e8" opacity="0.39"/><rect x="109.4" y="646.8" width="1.4" height="0.7" fill="#8a88c8" opacity="0.78"/><rect x="138.6" y="621.7" width="0.9" height="0.6" fill="#8a88c8" opacity="0.78"/><rect x="135.1" y="618.3" width="0.7" height="1.6" fill="#c8c8e8" opacity="0.31"/><rect x="95.6" y="649.3" width="1.7" height="1.3" fill="#8a88c8" opacity="0.62"/><rect x="67.9" y="623.6" width="0.8" height="0.7" fill="#ffffff" opacity="0.86"/><rect x="105.8" y="636.9" width="0.8" height="1.1" fill="#ffffff" opacity="0.46"/><rect x="147.5" y="642.8" width="0.6" height="0.6" fill="#ffffff" opacity="0.61"/><rect x="98.2" y="623.9" width="1.4" height="1.4" fill="#c8c8e8" opacity="0.63"/><rect x="145.3" y="645.7" width="1.0" height="0.9" fill="#ffffff" opacity="0.51"/><rect x="121.6" y="643.8" width="1.4" height="1.1" fill="#6462a8" opacity="0.89"/><rect x="59.3" y="644.0" width="1.4" height="1.7" fill="#c8c8e8" opacity="0.40"/><rect x="133.7" y="618.4" width="1.6" height="1.4" fill="#6462a8" opacity="0.66"/><rect x="62.1" y="639.1" width="0.8" height="0.9" fill="#8a88c8" opacity="0.46"/><rect x="145.5" y="648.2" width="1.3" height="0.9" fill="#6462a8" opacity="0.43"/><rect x="88.2" y="621.7" width="0.7" height="0.9" fill="#ffffff" opacity="0.45"/><rect x="66.2" y="641.9" width="1.6" height="0.8" fill="#8a88c8" opacity="0.54"/><rect x="114.7" y="625.7" width="0.7" height="1.7" fill="#ffffff" opacity="0.69"/><rect x="137.1" y="639.8" width="1.1" height="1.0" fill="#c8c8e8" opacity="0.39"/><rect x="115.9" y="640.1" width="0.7" height="1.6" fill="#c8c8e8" opacity="0.74"/><rect x="70.5" y="643.1" width="1.2" height="1.2" fill="#8a88c8" opacity="0.80"/><rect x="138.4" y="635.4" width="1.4" height="1.4" fill="#ffffff" opacity="0.35"/><rect x="115.3" y="616.9" width="1.8" height="1.1" fill="#c8c8e8" opacity="0.64"/><rect x="114.4" y="636.8" width="1.4" height="1.2" fill="#8a88c8" opacity="0.57"/><rect x="141.9" y="617.9" width="1.7" height="0.7" fill="#8a88c8" opacity="0.75"/><rect x="130.8" y="631.6" width="1.6" height="0.9" fill="#ffffff" opacity="0.44"/><rect x="99.4" y="637.6" width="1.6" height="0.7" fill="#6462a8" opacity="0.76"/><rect x="115.8" y="636.5" width="0.7" height="0.8" fill="#6462a8" opacity="0.69"/><rect x="113.9" y="639.1" width="0.8" height="1.2" fill="#c8c8e8" opacity="0.46"/><rect x="120.3" y="638.3" width="1.4" height="0.9" fill="#6462a8" opacity="0.58"/><rect x="68.7" y="631.4" width="1.7" height="0.8" fill="#8a88c8" opacity="0.86"/><rect x="99.3" y="616.1" width="1.6" height="1.8" fill="#c8c8e8" opacity="0.90"/><rect x="140.5" y="628.7" width="1.7" height="0.7" fill="#8a88c8" opacity="0.39"/><rect x="143.7" y="633.3" width="0.8" height="1.6" fill="#6462a8" opacity="0.83"/><rect x="78.8" y="639.4" width="1.7" height="1.2" fill="#8a88c8" opacity="0.40"/><rect x="119.3" y="647.8" width="1.1" height="1.5" fill="#c8c8e8" opacity="0.51"/><rect x="133.6" y="626.2" width="0.6" height="1.5" fill="#c8c8e8" opacity="0.37"/><rect x="122.2" y="647.0" width="1.7" height="0.9" fill="#6462a8" opacity="0.34"/><rect x="136.3" y="628.8" width="0.7" height="1.7" fill="#6462a8" opacity="0.81"/><rect x="62.6" y="625.0" width="1.4" height="1.4" fill="#ffffff" opacity="0.45"/><rect x="104.0" y="624.5" width="0.8" height="1.0" fill="#c8c8e8" opacity="0.83"/><rect x="114.8" y="643.1" width="1.7" height="1.7" fill="#ffffff" opacity="0.73"/><rect x="123.9" y="617.2" width="1.1" height="1.5" fill="#6462a8" opacity="0.59"/><rect x="107.5" y="646.5" width="0.8" height="1.1" fill="#6462a8" opacity="0.48"/><rect x="145.9" y="640.6" width="0.9" height="1.4" fill="#6462a8" opacity="0.59"/><rect x="68.8" y="638.2" width="1.4" height="0.7" fill="#c8c8e8" opacity="0.63"/><rect x="88.0" y="630.9" width="1.5" height="1.1" fill="#ffffff" opacity="0.45"/><rect x="108.0" y="621.4" width="1.0" height="1.0" fill="#ffffff" opacity="0.83"/><rect x="95.2" y="641.0" width="1.1" height="1.2" fill="#c8c8e8" opacity="0.46"/><rect x="102.8" y="641.1" width="1.3" height="1.0" fill="#ffffff" opacity="0.36"/><rect x="92.6" y="646.0" width="1.4" height="1.1" fill="#6462a8" opacity="0.81"/><rect x="60.0" y="645.2" width="0.6" height="1.5" fill="#c8c8e8" opacity="0.88"/><rect x="64.6" y="632.2" width="1.7" height="1.7" fill="#c8c8e8" opacity="0.88"/><rect x="67.8" y="623.9" width="0.8" height="1.2" fill="#8a88c8" opacity="0.86"/><rect x="116.3" y="640.0" width="1.5" height="1.1" fill="#8a88c8" opacity="0.30"/><rect x="109.2" y="619.8" width="0.6" height="1.5" fill="#ffffff" opacity="0.68"/><rect x="97.4" y="633.5" width="1.5" height="0.7" fill="#6462a8" opacity="0.61"/><rect x="92.9" y="635.3" width="0.9" height="1.3" fill="#8a88c8" opacity="0.62"/><rect x="83.1" y="649.4" width="1.0" height="1.6" fill="#ffffff" opacity="0.59"/><rect x="80.2" y="623.5" width="1.8" height="1.4" fill="#6462a8" opacity="0.33"/><rect x="137.6" y="622.1" width="1.4" height="0.7" fill="#ffffff" opacity="0.70"/><rect x="78.4" y="647.0" width="0.6" height="1.0" fill="#c8c8e8" opacity="0.52"/><rect x="58.6" y="629.0" width="1.0" height="1.6" fill="#8a88c8" opacity="0.42"/><rect x="86.1" y="648.5" width="1.6" height="0.9" fill="#ffffff" opacity="0.46"/><rect x="67.8" y="645.7" width="1.3" height="1.3" fill="#ffffff" opacity="0.59"/><rect x="63.1" y="646.5" width="1.3" height="1.7" fill="#8a88c8" opacity="0.43"/><rect x="70.8" y="648.6" width="0.7" height="0.7" fill="#c8c8e8" opacity="0.57"/><rect x="86.3" y="639.7" width="0.7" height="0.7" fill="#ffffff" opacity="0.50"/><rect x="142.2" y="621.8" width="1.5" height="0.6" fill="#c8c8e8" opacity="0.80"/><rect x="97.8" y="649.0" width="0.7" height="0.7" fill="#8a88c8" opacity="0.51"/><rect x="69.1" y="648.0" width="1.8" height="0.8" fill="#6462a8" opacity="0.76"/><rect x="130.4" y="626.0" width="0.7" height="1.4" fill="#ffffff" opacity="0.52"/><rect x="75.4" y="646.8" width="1.0" height="1.7" fill="#8a88c8" opacity="0.68"/><rect x="114.3" y="623.9" width="1.1" height="1.1" fill="#c8c8e8" opacity="0.34"/><rect x="81.1" y="646.8" width="1.5" height="1.7" fill="#6462a8" opacity="0.52"/><rect x="143.8" y="626.9" width="0.7" height="1.5" fill="#6462a8" opacity="0.85"/><rect x="122.9" y="625.6" width="1.3" height="1.6" fill="#8a88c8" opacity="0.31"/><rect x="100.8" y="623.5" width="1.7" height="1.7" fill="#c8c8e8" opacity="0.77"/><rect x="131.3" y="646.6" width="0.8" height="1.2" fill="#8a88c8" opacity="0.78"/><rect x="132.0" y="640.6" width="1.5" height="1.3" fill="#6462a8" opacity="0.82"/><rect x="128.5" y="631.2" width="1.3" height="1.2" fill="#c8c8e8" opacity="0.75"/><rect x="63.8" y="623.9" width="0.6" height="1.3" fill="#6462a8" opacity="0.40"/><rect x="67.5" y="630.0" width="0.7" height="1.3" fill="#ffffff" opacity="0.36"/><rect x="121.9" y="632.4" width="1.1" height="0.9" fill="#c8c8e8" opacity="0.58"/><rect x="79.1" y="645.8" width="1.2" height="1.5" fill="#8a88c8" opacity="0.77"/><rect x="83.1" y="625.5" width="0.9" height="0.9" fill="#6462a8" opacity="0.42"/><rect x="80.1" y="623.9" width="0.8" height="1.7" fill="#ffffff" opacity="0.50"/><rect x="147.3" y="629.0" width="1.2" height="0.9" fill="#8a88c8" opacity="0.69"/><rect x="67.2" y="649.2" width="1.2" height="1.6" fill="#c8c8e8" opacity="0.85"/><rect x="84.4" y="616.9" width="0.7" height="0.8" fill="#ffffff" opacity="0.86"/><rect x="136.0" y="628.2" width="1.1" height="0.9" fill="#8a88c8" opacity="0.36"/><rect x="113.8" y="635.8" width="0.9" height="1.0" fill="#ffffff" opacity="0.33"/><rect x="61.4" y="649.5" width="1.5" height="1.7" fill="#8a88c8" opacity="0.79"/><rect x="91.5" y="629.4" width="1.3" height="0.7" fill="#8a88c8" opacity="0.78"/><rect x="63.7" y="634.1" width="0.7" height="1.1" fill="#ffffff" opacity="0.68"/><rect x="72.7" y="618.6" width="1.4" height="1.1" fill="#6462a8" opacity="0.70"/><rect x="62.6" y="629.7" width="1.5" height="1.7" fill="#c8c8e8" opacity="0.55"/><rect x="147.7" y="644.9" width="1.0" height="0.8" fill="#c8c8e8" opacity="0.42"/><rect x="139.1" y="615.7" width="1.1" height="1.6" fill="#c8c8e8" opacity="0.65"/><rect x="127.6" y="627.9" width="0.8" height="0.7" fill="#ffffff" opacity="0.68"/><rect x="66.0" y="646.4" width="1.3" height="1.0" fill="#ffffff" opacity="0.39"/><rect x="104.9" y="625.1" width="1.7" height="0.7" fill="#c8c8e8" opacity="0.75"/><rect x="130.4" y="642.4" width="1.0" height="1.6" fill="#8a88c8" opacity="0.89"/><rect x="62.8" y="631.9" width="1.7" height="1.1" fill="#ffffff" opacity="0.68"/></g>
<clipPath id="c1slab"><polygon points="58.0,630.5 103.0,616.0 147.0,630.5 103.0,649.5"/></clipPath>
<polyline points="58.0,630.5 103.0,649.5 147.0,630.5" fill="none" stroke="#7c48a8" stroke-width="1"/>
<polygon points="58.0,630.5 103.0,649.5 147.0,630.5 147.0,632.0 103.0,651.5 58.0,632.0" fill="#4a4488" opacity="0.55"/>
<line x1="209.5" y1="613.2" x2="161" y2="628.7" stroke="#dca6e8" stroke-width="0.7"/><line x1="209.5" y1="613.2" x2="258" y2="628.7" stroke="#dca6e8" stroke-width="0.7"/><line x1="161" y1="628.7" x2="209.5" y2="650.2" stroke="#dca6e8" stroke-width="0.7"/><line x1="209.5" y1="650.2" x2="258" y2="628.7" stroke="#dca6e8" stroke-width="0.7"/><line x1="161" y1="628.7" x2="168" y2="684.2" stroke="#dca6e8" stroke-width="0.7"/><line x1="258" y1="628.7" x2="251" y2="684.2" stroke="#dca6e8" stroke-width="0.7"/><line x1="209.5" y1="650.2" x2="209.5" y2="713.7" stroke="#dca6e8" stroke-width="0.7"/><line x1="209.5" y1="613.2" x2="209.5" y2="663.2" stroke="#dca6e8" stroke-width="0.7"/><line x1="209.5" y1="663.2" x2="168" y2="684.2" stroke="#dca6e8" stroke-width="0.7"/><line x1="209.5" y1="663.2" x2="251" y2="684.2" stroke="#dca6e8" stroke-width="0.7"/><line x1="168" y1="684.2" x2="209.5" y2="713.7" stroke="#dca6e8" stroke-width="0.7"/><line x1="251" y1="684.2" x2="209.5" y2="713.7" stroke="#dca6e8" stroke-width="0.7"/>
<polygon points="164.5,633.2 208.5,618.7 254.5,631.2 253.5,653.2 252.0,679.2 211.5,706.2 171.5,681.2 165.5,658.2" fill="url(#fadeG)" filter="url(#brownTex)"/>
<line x1="161" y1="628.7" x2="209.5" y2="650.2" stroke="#dca6e8" stroke-width="0.7"/><line x1="209.5" y1="650.2" x2="258" y2="628.7" stroke="#dca6e8" stroke-width="0.7"/><line x1="209.5" y1="650.2" x2="209.5" y2="713.7" stroke="#dca6e8" stroke-width="0.7"/>
<g opacity="0.9"><line x1="166.5" y1="634.2" x2="209.5" y2="650.2" stroke="#b45ab8" stroke-width="0.9"/><line x1="209.5" y1="650.2" x2="253.5" y2="632.2" stroke="#b45ab8" stroke-width="0.9"/><line x1="209.5" y1="650.2" x2="210.5" y2="706.2" stroke="#b45ab8" stroke-width="0.9"/></g>
<line x1="319.6" y1="613" x2="271.1" y2="628.5" stroke="#dca6e8" stroke-width="0.7"/><line x1="319.6" y1="613" x2="368.1" y2="628.5" stroke="#dca6e8" stroke-width="0.7"/><line x1="271.1" y1="628.5" x2="319.6" y2="650" stroke="#dca6e8" stroke-width="0.7"/><line x1="319.6" y1="650" x2="368.1" y2="628.5" stroke="#dca6e8" stroke-width="0.7"/><line x1="271.1" y1="628.5" x2="278.1" y2="684" stroke="#dca6e8" stroke-width="0.7"/><line x1="368.1" y1="628.5" x2="361.1" y2="684" stroke="#dca6e8" stroke-width="0.7"/><line x1="319.6" y1="650" x2="319.6" y2="713.5" stroke="#dca6e8" stroke-width="0.7"/><line x1="319.6" y1="613" x2="319.6" y2="663" stroke="#dca6e8" stroke-width="0.7"/><line x1="319.6" y1="663" x2="278.1" y2="684" stroke="#dca6e8" stroke-width="0.7"/><line x1="319.6" y1="663" x2="361.1" y2="684" stroke="#dca6e8" stroke-width="0.7"/><line x1="278.1" y1="684" x2="319.6" y2="713.5" stroke="#dca6e8" stroke-width="0.7"/><line x1="361.1" y1="684" x2="319.6" y2="713.5" stroke="#dca6e8" stroke-width="0.7"/>
<clipPath id="c3clip"><polygon points="319.6,613.0 368.1,628.5 361.1,684.0 319.6,713.5 278.1,684.0 271.1,628.5"/></clipPath>
<rect x="271.6" y="613.0" width="96" height="100" fill="#fff" filter="url(#co3Tex)" clip-path="url(#c3clip)"/>
<line x1="428.2" y1="613.2" x2="379.7" y2="628.7" stroke="#dca6e8" stroke-width="0.7"/><line x1="428.2" y1="613.2" x2="476.7" y2="628.7" stroke="#dca6e8" stroke-width="0.7"/><line x1="379.7" y1="628.7" x2="428.2" y2="650.2" stroke="#dca6e8" stroke-width="0.7"/><line x1="428.2" y1="650.2" x2="476.7" y2="628.7" stroke="#dca6e8" stroke-width="0.7"/><line x1="379.7" y1="628.7" x2="386.7" y2="684.2" stroke="#dca6e8" stroke-width="0.7"/><line x1="476.7" y1="628.7" x2="469.7" y2="684.2" stroke="#dca6e8" stroke-width="0.7"/><line x1="428.2" y1="650.2" x2="428.2" y2="713.7" stroke="#dca6e8" stroke-width="0.7"/><line x1="428.2" y1="613.2" x2="428.2" y2="663.2" stroke="#dca6e8" stroke-width="0.7"/><line x1="428.2" y1="663.2" x2="386.7" y2="684.2" stroke="#dca6e8" stroke-width="0.7"/><line x1="428.2" y1="663.2" x2="469.7" y2="684.2" stroke="#dca6e8" stroke-width="0.7"/><line x1="386.7" y1="684.2" x2="428.2" y2="713.7" stroke="#dca6e8" stroke-width="0.7"/><line x1="469.7" y1="684.2" x2="428.2" y2="713.7" stroke="#dca6e8" stroke-width="0.7"/>
<polygon points="383.2,633.2 427.2,618.7 473.2,631.2 472.2,653.2 470.7,679.2 430.2,706.2 390.2,681.2 384.2,658.2" fill="url(#fadeG)" filter="url(#brownTex)"/>
<polygon points="384.2,632.7 428.2,618.7 472.2,632.7 428.2,651.7" fill="#000" filter="url(#slabTex)"/>
<clipPath id="c4slab"><polygon points="384.2,632.7 428.2,618.7 472.2,632.7 428.2,651.7"/></clipPath>
<g clip-path="url(#c4slab)"><rect x="449.5" y="639.4" width="1.6" height="1.7" fill="#b09a70" opacity="0.82"/><rect x="406.1" y="644.6" width="0.7" height="0.8" fill="#c8b088" opacity="0.63"/><rect x="432.1" y="626.6" width="1.3" height="0.6" fill="#8a88c8" opacity="0.60"/><rect x="460.5" y="624.4" width="1.1" height="1.5" fill="#b09a70" opacity="0.47"/><rect x="395.3" y="639.2" width="0.6" height="1.6" fill="#8a88c8" opacity="0.79"/><rect x="398.8" y="650.8" width="0.8" height="1.0" fill="#8a88c8" opacity="0.67"/><rect x="402.2" y="641.2" width="1.7" height="1.4" fill="#5a58a0" opacity="0.55"/><rect x="398.8" y="630.5" width="0.8" height="0.7" fill="#c8b088" opacity="0.81"/><rect x="436.6" y="638.1" width="1.4" height="0.7" fill="#c8b088" opacity="0.81"/><rect x="412.0" y="634.5" width="1.2" height="1.4" fill="#b09a70" opacity="0.53"/><rect x="467.7" y="650.1" width="1.0" height="1.1" fill="#5a58a0" opacity="0.58"/><rect x="385.0" y="637.9" width="0.7" height="0.8" fill="#8a88c8" opacity="0.46"/><rect x="456.3" y="626.6" width="1.2" height="1.2" fill="#c8b088" opacity="0.79"/><rect x="450.1" y="621.9" width="1.6" height="1.6" fill="#b09a70" opacity="0.62"/><rect x="402.5" y="651.5" width="1.2" height="1.0" fill="#8a88c8" opacity="0.57"/><rect x="432.2" y="649.6" width="1.0" height="1.0" fill="#8a88c8" opacity="0.80"/><rect x="447.7" y="639.5" width="1.0" height="1.2" fill="#b09a70" opacity="0.44"/><rect x="465.5" y="638.6" width="0.6" height="1.5" fill="#c8b088" opacity="0.81"/><rect x="421.3" y="633.7" width="0.7" height="1.7" fill="#b09a70" opacity="0.80"/><rect x="402.4" y="629.6" width="1.8" height="1.3" fill="#8a88c8" opacity="0.72"/><rect x="393.6" y="645.0" width="1.1" height="0.8" fill="#5a58a0" opacity="0.55"/><rect x="472.1" y="633.6" width="1.6" height="1.8" fill="#5a58a0" opacity="0.88"/><rect x="412.2" y="641.6" width="0.9" height="1.2" fill="#8a88c8" opacity="0.46"/><rect x="431.0" y="646.1" width="0.8" height="1.7" fill="#c8b088" opacity="0.49"/><rect x="429.5" y="634.9" width="1.3" height="1.2" fill="#b09a70" opacity="0.79"/><rect x="445.3" y="644.5" width="1.4" height="1.5" fill="#c8b088" opacity="0.68"/><rect x="457.7" y="640.9" width="0.9" height="1.8" fill="#c8b088" opacity="0.88"/><rect x="399.9" y="629.8" width="1.6" height="1.2" fill="#c8b088" opacity="0.56"/><rect x="409.6" y="627.5" width="1.2" height="1.4" fill="#c8b088" opacity="0.57"/><rect x="449.1" y="640.1" width="1.6" height="1.0" fill="#8a88c8" opacity="0.83"/><rect x="470.1" y="641.6" width="1.7" height="1.2" fill="#8a88c8" opacity="0.50"/><rect x="459.3" y="630.5" width="0.9" height="0.7" fill="#5a58a0" opacity="0.49"/><rect x="435.3" y="644.7" width="1.4" height="1.1" fill="#c8b088" opacity="0.76"/><rect x="398.3" y="619.1" width="1.1" height="1.4" fill="#8a88c8" opacity="0.78"/><rect x="447.4" y="624.3" width="1.8" height="1.8" fill="#8a88c8" opacity="0.43"/><rect x="412.1" y="622.7" width="0.8" height="0.8" fill="#b09a70" opacity="0.61"/><rect x="442.5" y="630.1" width="0.7" height="0.8" fill="#c8b088" opacity="0.40"/><rect x="408.7" y="632.0" width="1.1" height="0.7" fill="#c8b088" opacity="0.88"/><rect x="410.7" y="636.9" width="1.0" height="1.2" fill="#c8b088" opacity="0.88"/><rect x="421.1" y="646.0" width="1.6" height="1.4" fill="#c8b088" opacity="0.63"/><rect x="417.9" y="623.5" width="1.2" height="0.8" fill="#8a88c8" opacity="0.70"/><rect x="462.8" y="630.1" width="0.6" height="0.7" fill="#8a88c8" opacity="0.56"/><rect x="433.9" y="648.0" width="1.1" height="1.8" fill="#5a58a0" opacity="0.55"/><rect x="417.6" y="651.3" width="1.8" height="1.7" fill="#c8b088" opacity="0.77"/><rect x="406.3" y="628.4" width="0.6" height="1.7" fill="#c8b088" opacity="0.65"/><rect x="426.2" y="627.9" width="0.7" height="1.3" fill="#5a58a0" opacity="0.52"/><rect x="396.2" y="619.6" width="1.1" height="1.2" fill="#c8b088" opacity="0.52"/><rect x="387.4" y="634.3" width="1.2" height="1.6" fill="#c8b088" opacity="0.55"/><rect x="426.0" y="638.9" width="1.4" height="1.3" fill="#b09a70" opacity="0.41"/><rect x="409.0" y="622.5" width="1.4" height="1.3" fill="#b09a70" opacity="0.63"/><rect x="449.8" y="630.5" width="1.3" height="0.6" fill="#c8b088" opacity="0.68"/><rect x="393.7" y="641.5" width="1.4" height="0.8" fill="#5a58a0" opacity="0.79"/><rect x="434.9" y="632.7" width="1.4" height="1.4" fill="#5a58a0" opacity="0.83"/><rect x="426.1" y="646.8" width="1.4" height="1.5" fill="#c8b088" opacity="0.63"/><rect x="410.9" y="644.0" width="0.6" height="1.5" fill="#c8b088" opacity="0.72"/><rect x="411.6" y="634.3" width="0.8" height="1.4" fill="#5a58a0" opacity="0.89"/><rect x="421.6" y="636.5" width="1.2" height="0.7" fill="#8a88c8" opacity="0.53"/><rect x="389.7" y="621.1" width="1.7" height="1.0" fill="#5a58a0" opacity="0.89"/><rect x="445.9" y="652.1" width="0.7" height="1.6" fill="#8a88c8" opacity="0.71"/><rect x="394.0" y="646.2" width="1.7" height="1.8" fill="#5a58a0" opacity="0.47"/><rect x="420.6" y="639.0" width="0.8" height="1.3" fill="#b09a70" opacity="0.68"/><rect x="449.8" y="640.6" width="0.9" height="1.3" fill="#b09a70" opacity="0.77"/><rect x="396.0" y="648.1" width="1.1" height="1.0" fill="#5a58a0" opacity="0.64"/><rect x="417.1" y="650.1" width="0.7" height="1.4" fill="#8a88c8" opacity="0.68"/><rect x="409.7" y="641.3" width="1.7" height="1.3" fill="#8a88c8" opacity="0.53"/><rect x="406.6" y="637.0" width="1.5" height="1.2" fill="#8a88c8" opacity="0.80"/><rect x="424.1" y="647.6" width="1.1" height="0.8" fill="#b09a70" opacity="0.73"/><rect x="443.0" y="621.1" width="0.7" height="0.7" fill="#5a58a0" opacity="0.52"/><rect x="426.5" y="648.0" width="1.0" height="1.6" fill="#b09a70" opacity="0.67"/><rect x="458.8" y="631.3" width="1.7" height="1.1" fill="#8a88c8" opacity="0.77"/><rect x="464.4" y="621.0" width="1.2" height="0.9" fill="#5a58a0" opacity="0.58"/><rect x="413.5" y="626.2" width="1.3" height="1.0" fill="#5a58a0" opacity="0.59"/><rect x="415.7" y="642.8" width="1.0" height="1.4" fill="#c8b088" opacity="0.66"/><rect x="434.6" y="638.3" width="1.5" height="1.1" fill="#b09a70" opacity="0.42"/><rect x="401.4" y="624.5" width="1.2" height="1.7" fill="#c8b088" opacity="0.40"/><rect x="462.5" y="634.2" width="1.3" height="1.1" fill="#5a58a0" opacity="0.63"/><rect x="441.7" y="624.7" width="0.7" height="1.6" fill="#5a58a0" opacity="0.48"/><rect x="408.6" y="626.8" width="0.8" height="0.9" fill="#8a88c8" opacity="0.42"/><rect x="414.5" y="648.7" width="1.5" height="1.0" fill="#b09a70" opacity="0.74"/><rect x="425.7" y="641.1" width="1.7" height="0.7" fill="#c8b088" opacity="0.55"/><rect x="448.4" y="641.1" width="0.8" height="0.8" fill="#b09a70" opacity="0.69"/><rect x="438.5" y="640.5" width="1.7" height="1.4" fill="#c8b088" opacity="0.49"/><rect x="390.1" y="630.5" width="1.8" height="1.2" fill="#8a88c8" opacity="0.49"/><rect x="388.1" y="625.3" width="1.3" height="1.5" fill="#c8b088" opacity="0.40"/><rect x="452.8" y="620.3" width="1.1" height="0.7" fill="#c8b088" opacity="0.87"/><rect x="405.1" y="642.6" width="1.6" height="0.7" fill="#5a58a0" opacity="0.43"/><rect x="388.6" y="626.5" width="1.1" height="0.7" fill="#c8b088" opacity="0.82"/><rect x="440.6" y="633.4" width="1.7" height="1.7" fill="#8a88c8" opacity="0.49"/><rect x="419.6" y="635.5" width="1.2" height="0.7" fill="#c8b088" opacity="0.80"/><rect x="470.9" y="621.2" width="0.8" height="0.7" fill="#8a88c8" opacity="0.71"/><rect x="415.7" y="633.2" width="1.1" height="1.5" fill="#8a88c8" opacity="0.76"/><rect x="411.3" y="649.2" width="1.1" height="1.6" fill="#8a88c8" opacity="0.68"/><rect x="426.7" y="622.9" width="1.5" height="0.9" fill="#5a58a0" opacity="0.56"/><rect x="391.4" y="622.6" width="0.9" height="0.7" fill="#5a58a0" opacity="0.88"/><rect x="408.5" y="640.9" width="1.2" height="0.9" fill="#8a88c8" opacity="0.80"/><rect x="462.1" y="648.2" width="0.7" height="1.5" fill="#5a58a0" opacity="0.78"/><rect x="463.1" y="637.1" width="1.4" height="1.5" fill="#b09a70" opacity="0.62"/><rect x="441.9" y="646.0" width="1.7" height="1.5" fill="#5a58a0" opacity="0.53"/><rect x="417.9" y="645.8" width="0.8" height="0.7" fill="#8a88c8" opacity="0.47"/><rect x="412.6" y="635.1" width="0.6" height="1.3" fill="#b09a70" opacity="0.41"/><rect x="395.7" y="619.9" width="1.0" height="1.6" fill="#b09a70" opacity="0.52"/><rect x="416.1" y="632.8" width="1.0" height="0.6" fill="#8a88c8" opacity="0.76"/><rect x="430.9" y="621.4" width="0.8" height="1.5" fill="#5a58a0" opacity="0.78"/><rect x="422.0" y="633.0" width="1.0" height="1.1" fill="#8a88c8" opacity="0.63"/><rect x="423.0" y="633.0" width="1.5" height="1.7" fill="#5a58a0" opacity="0.88"/><rect x="393.3" y="638.5" width="1.6" height="1.1" fill="#b09a70" opacity="0.50"/><rect x="464.2" y="618.2" width="0.9" height="1.4" fill="#c8b088" opacity="0.60"/><rect x="408.6" y="625.5" width="0.8" height="1.3" fill="#c8b088" opacity="0.78"/><rect x="416.5" y="644.9" width="1.6" height="1.6" fill="#b09a70" opacity="0.71"/><rect x="396.8" y="631.8" width="1.6" height="1.2" fill="#b09a70" opacity="0.45"/><rect x="450.5" y="631.7" width="0.9" height="1.7" fill="#c8b088" opacity="0.64"/><rect x="431.2" y="634.2" width="0.7" height="0.8" fill="#b09a70" opacity="0.45"/><rect x="438.8" y="638.8" width="1.6" height="0.6" fill="#b09a70" opacity="0.71"/><rect x="428.3" y="635.7" width="1.3" height="1.4" fill="#5a58a0" opacity="0.89"/><rect x="465.5" y="645.9" width="1.4" height="1.4" fill="#8a88c8" opacity="0.80"/><rect x="436.4" y="630.5" width="1.4" height="1.2" fill="#c8b088" opacity="0.54"/><rect x="452.3" y="619.1" width="1.3" height="1.6" fill="#5a58a0" opacity="0.55"/><rect x="408.4" y="649.8" width="1.5" height="0.7" fill="#b09a70" opacity="0.73"/><rect x="463.1" y="650.7" width="1.4" height="1.6" fill="#8a88c8" opacity="0.64"/><rect x="394.9" y="621.3" width="1.0" height="1.5" fill="#5a58a0" opacity="0.60"/><rect x="418.5" y="618.3" width="0.8" height="1.4" fill="#8a88c8" opacity="0.86"/><rect x="418.2" y="639.1" width="0.7" height="1.4" fill="#c8b088" opacity="0.52"/><rect x="410.1" y="621.6" width="1.6" height="1.6" fill="#b09a70" opacity="0.85"/><rect x="439.9" y="623.9" width="1.5" height="0.9" fill="#b09a70" opacity="0.68"/><rect x="440.5" y="639.5" width="1.3" height="1.1" fill="#8a88c8" opacity="0.61"/><rect x="463.8" y="636.2" width="1.0" height="0.9" fill="#c8b088" opacity="0.49"/><rect x="394.4" y="619.2" width="1.3" height="1.3" fill="#8a88c8" opacity="0.62"/><rect x="393.2" y="629.3" width="1.5" height="1.0" fill="#b09a70" opacity="0.43"/><rect x="457.6" y="634.7" width="1.7" height="1.0" fill="#5a58a0" opacity="0.72"/><rect x="404.4" y="649.7" width="1.4" height="1.6" fill="#5a58a0" opacity="0.82"/><rect x="443.4" y="618.3" width="0.7" height="1.0" fill="#c8b088" opacity="0.71"/><rect x="450.9" y="621.8" width="1.5" height="1.6" fill="#8a88c8" opacity="0.76"/><rect x="468.4" y="649.6" width="1.4" height="1.8" fill="#b09a70" opacity="0.58"/><rect x="401.4" y="645.9" width="1.0" height="0.8" fill="#b09a70" opacity="0.52"/><rect x="425.2" y="650.2" width="0.6" height="1.8" fill="#c8b088" opacity="0.47"/><rect x="417.7" y="618.3" width="1.0" height="1.5" fill="#5a58a0" opacity="0.78"/><rect x="410.2" y="642.7" width="0.7" height="1.2" fill="#c8b088" opacity="0.78"/><rect x="414.4" y="624.8" width="0.8" height="1.7" fill="#b09a70" opacity="0.69"/><rect x="413.9" y="628.3" width="1.6" height="1.2" fill="#b09a70" opacity="0.51"/><rect x="408.1" y="651.7" width="1.5" height="0.8" fill="#b09a70" opacity="0.68"/></g>
<polyline points="384.2,632.7 428.2,651.7 472.2,632.7" fill="none" stroke="#7c48a8" stroke-width="1.1"/>
<line x1="428.2" y1="651.7" x2="429.2" y2="706.2" stroke="#b45ab8" stroke-width="0.9"/>
<text x="95.2" y="736.6" font-size="12.7" fill="#111" text-anchor="middle">C<tspan dy="3.5" font-size="8.5">2</tspan><tspan dy="-3.5">HO-</tspan></text>
<text x="205.3" y="736.4" font-size="12.7" fill="#111" text-anchor="middle">LiF-</text>
<text x="321.8" y="736.4" font-size="12.7" fill="#111" text-anchor="middle">CO<tspan dy="3.5" font-size="8.5">3</tspan><tspan dy="-3.5">-</tspan></text>
<text x="431.1" y="736.5" font-size="12.7" fill="#111" text-anchor="middle">Total</text>
<text x="17.6" y="605.9" font-size="21.3" fill="#000" text-anchor="start">j</text>
<rect x="528.8" y="690.8" width="17.6" height="49.4" fill="url(#hatchB)"/>
<rect x="563.2" y="735.7" width="18.0" height="4.5" fill="url(#hatchO)"/>
<rect x="598.2" y="699.0" width="17.4" height="41.2" fill="url(#hatchG)"/>
<rect x="632.6" y="734.1" width="17.4" height="6.1" fill="url(#hatchR)"/>
<rect x="520" y="614.2" width="156.4" height="126" fill="none" stroke="#222" stroke-width="1.5"/>
<line x1="520" y1="740.2" x2="517" y2="740.2" stroke="#222" stroke-width="1.0"/><line x1="520" y1="712.3" x2="517" y2="712.3" stroke="#222" stroke-width="1.0"/><line x1="520" y1="684.4" x2="517" y2="684.4" stroke="#222" stroke-width="1.0"/><line x1="520" y1="656.5" x2="517" y2="656.5" stroke="#222" stroke-width="1.0"/><line x1="520" y1="628.6" x2="517" y2="628.6" stroke="#222" stroke-width="1.0"/>
<line x1="520" y1="726.2" x2="518" y2="726.2" stroke="#222" stroke-width="1.0"/><line x1="520" y1="698.4" x2="518" y2="698.4" stroke="#222" stroke-width="1.0"/><line x1="520" y1="670.5" x2="518" y2="670.5" stroke="#222" stroke-width="1.0"/><line x1="520" y1="642.6" x2="518" y2="642.6" stroke="#222" stroke-width="1.0"/><line x1="520" y1="614.7" x2="518" y2="614.7" stroke="#222" stroke-width="1.0"/>
<text x="516.6" y="744.2" font-size="11.3" fill="#111" text-anchor="end">0.0</text>
<text x="516.6" y="716.3" font-size="11.3" fill="#111" text-anchor="end">-0.4</text>
<text x="516.6" y="688.4" font-size="11.3" fill="#111" text-anchor="end">-0.8</text>
<text x="516.6" y="660.5" font-size="11.3" fill="#111" text-anchor="end">-1.2</text>
<text x="516.6" y="632.6" font-size="11.3" fill="#111" text-anchor="end">-1.6</text>
<text x="537.6" y="753.6" font-size="11.0" fill="#111" text-anchor="middle">LiPF<tspan dy="3" font-size="8.5">6</tspan></text>
<text x="573.5" y="753.6" font-size="11.0" fill="#111" text-anchor="middle">DEC</text>
<text x="606.2" y="753.6" font-size="11.0" fill="#111" text-anchor="middle">EC</text>
<text x="643.5" y="753.6" font-size="11.0" fill="#111" text-anchor="middle">DMC</text>
<text x="0" y="0" font-size="12.1" fill="#111" text-anchor="middle" transform="translate(493.4,677.6) rotate(-90)">Formation energy (eV)</text>
<text x="483.9" y="605.8" font-size="21.3" fill="#000" text-anchor="start">k</text>

</svg></body></html>
